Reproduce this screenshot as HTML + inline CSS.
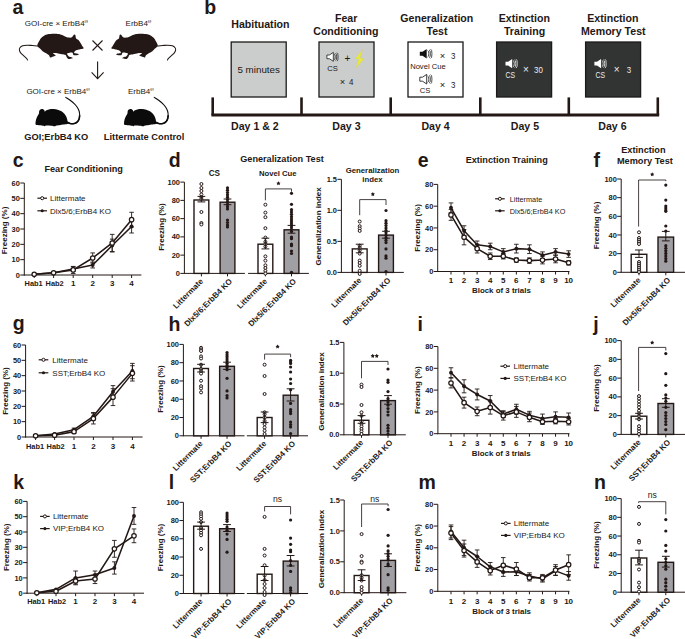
<!DOCTYPE html>
<html><head><meta charset="utf-8"><title>Figure</title>
<style>
html,body{margin:0;padding:0;background:#fff;}
svg{display:block;font-family:"Liberation Sans", sans-serif;}
</style></head>
<body>
<svg width="685" height="639" viewBox="0 0 685 639">
<rect width="685" height="639" fill="#ffffff"/>
<text x="12.6" y="14.3" font-size="19.5" font-weight="bold" fill="#231815">a</text>
<text x="204.2" y="14.2" font-size="19.5" font-weight="bold" fill="#231815">b</text>
<text x="12.8" y="167.2" font-size="19.5" font-weight="bold" fill="#231815">c</text>
<text x="168.8" y="167" font-size="19.5" font-weight="bold" fill="#231815">d</text>
<text x="417.8" y="166.6" font-size="19.5" font-weight="bold" fill="#231815">e</text>
<text x="593.6" y="167.2" font-size="19.5" font-weight="bold" fill="#231815">f</text>
<text x="12.8" y="329.5" font-size="19.5" font-weight="bold" fill="#231815">g</text>
<text x="168.6" y="330.5" font-size="19.5" font-weight="bold" fill="#231815">h</text>
<text x="417.6" y="330.8" font-size="19.5" font-weight="bold" fill="#231815">i</text>
<text x="593.3" y="330.5" font-size="19.5" font-weight="bold" fill="#231815">j</text>
<text x="13.2" y="489" font-size="19.5" font-weight="bold" fill="#231815">k</text>
<text x="168.8" y="488.5" font-size="19.5" font-weight="bold" fill="#231815">l</text>
<text x="418.6" y="489" font-size="19.5" font-weight="bold" fill="#231815">m</text>
<text x="594" y="488.6" font-size="19.5" font-weight="bold" fill="#231815">n</text>
<path d="M37.45,44.42 C37.58,43.98 38.16,42.93 38.54,42.23 C38.92,41.53 40.09,39.17 40.73,38.4 C41.37,37.63 43.19,36.15 44.02,35.66 C44.85,35.17 46.77,34.47 47.85,34.24 C48.94,34.01 52.04,33.72 53.32,33.69 C54.6,33.66 57.65,33.81 58.8,34.02 C59.95,34.23 62.22,35.07 63.18,35.45 C64.14,35.83 66.24,37.05 67.01,37.31 C67.78,37.57 69.17,37.64 69.75,37.64 C70.33,37.64 71.43,37.68 71.94,37.31 C72.45,36.94 73.73,34.78 74.13,34.5 C74.53,34.22 75.12,34.45 75.35,34.9 C75.58,35.35 75.73,37.8 76.1,38.4 C76.47,39 77.97,39.46 78.51,40.04 C79.05,40.62 80.21,42.56 80.7,43.33 C81.19,44.1 82.31,46.03 82.67,46.61 C83.03,47.19 83.76,48 83.76,48.26 C83.76,48.52 83.21,48.67 82.7,48.8 C82.19,48.93 80.09,49.26 79.4,49.4 C78.71,49.54 77.34,49.78 76.8,50 C76.26,50.22 75.1,50.96 74.8,51.3 C74.5,51.64 73.97,52.64 74.2,52.9 C74.43,53.16 76.26,53.35 76.8,53.5 C77.34,53.65 78.65,54.04 78.8,54.2 C78.95,54.36 78.48,54.78 78.1,54.9 C77.71,55.02 76.04,55.2 75.5,55.2 C74.96,55.2 73.8,55.1 73.5,54.9 C73.2,54.7 73.05,53.77 72.9,53.5 C72.75,53.23 72.67,52.67 72.2,52.6 C71.73,52.53 69.52,52.8 68.9,52.9 C68.28,53 67.05,53.27 66.9,53.5 C66.75,53.73 67.37,54.55 67.6,54.9 C67.83,55.25 68.45,56.23 68.9,56.5 C69.36,56.77 71.03,57.01 71.5,57.2 C71.97,57.39 72.97,57.91 72.9,58.1 C72.83,58.29 71.44,58.68 70.9,58.8 C70.36,58.92 68.72,59.18 68.3,59.1 C67.88,59.02 67.53,58.44 67.3,58.1 C67.07,57.76 66.5,56.57 66.3,56.2 C66.1,55.83 66.14,55.13 65.6,54.9 C65.06,54.67 62.69,54.4 61.7,54.2 C60.71,54 58.1,53.32 57.1,53.2 C56.1,53.08 53.45,53.08 53.1,53.2 C52.75,53.32 53.79,53.97 54.1,54.2 C54.41,54.43 55.8,54.97 55.8,55.2 C55.8,55.43 54.48,56.01 54.1,56.2 C53.72,56.39 52.88,56.65 52.5,56.8 C52.12,56.95 51.1,57.45 50.8,57.5 C50.5,57.55 50.09,57.43 49.9,57.2 C49.71,56.97 49.59,55.93 49.2,55.5 C48.82,55.07 47.37,54 46.6,53.5 C45.83,53 43.37,51.77 42.6,51.2 C41.83,50.63 40.47,49.04 40,48.6 C39.53,48.16 38.9,47.7 38.6,47.4 C38.3,47.1 37.53,46.35 37.4,46 C37.27,45.65 37.32,44.86 37.45,44.42 Z" fill="#231815"/>
<path d="M38,46 C36.9,45.9 34.71,45.68 32.52,45.52 C30.33,45.36 29.01,45.12 27.04,45.19 C25.07,45.26 24.08,45.35 22.66,45.85 C21.24,46.35 20.59,46.9 19.93,47.71 C19.27,48.52 19.27,48.91 19.38,49.9 C19.49,50.89 19.59,51.44 20.47,52.64 C21.35,53.84 22.55,54.76 23.76,55.92 C24.97,57.08 25.73,57.63 26.5,58.44 C27.27,59.25 27.37,59.66 27.59,59.97" fill="none" stroke="#231815" stroke-width="1.05" stroke-linecap="round"/>
<g transform="translate(195,0) scale(-1,1)">
<path d="M37.45,44.42 C37.58,43.98 38.16,42.93 38.54,42.23 C38.92,41.53 40.09,39.17 40.73,38.4 C41.37,37.63 43.19,36.15 44.02,35.66 C44.85,35.17 46.77,34.47 47.85,34.24 C48.94,34.01 52.04,33.72 53.32,33.69 C54.6,33.66 57.65,33.81 58.8,34.02 C59.95,34.23 62.22,35.07 63.18,35.45 C64.14,35.83 66.24,37.05 67.01,37.31 C67.78,37.57 69.17,37.64 69.75,37.64 C70.33,37.64 71.43,37.68 71.94,37.31 C72.45,36.94 73.73,34.78 74.13,34.5 C74.53,34.22 75.12,34.45 75.35,34.9 C75.58,35.35 75.73,37.8 76.1,38.4 C76.47,39 77.97,39.46 78.51,40.04 C79.05,40.62 80.21,42.56 80.7,43.33 C81.19,44.1 82.31,46.03 82.67,46.61 C83.03,47.19 83.76,48 83.76,48.26 C83.76,48.52 83.21,48.67 82.7,48.8 C82.19,48.93 80.09,49.26 79.4,49.4 C78.71,49.54 77.34,49.78 76.8,50 C76.26,50.22 75.1,50.96 74.8,51.3 C74.5,51.64 73.97,52.64 74.2,52.9 C74.43,53.16 76.26,53.35 76.8,53.5 C77.34,53.65 78.65,54.04 78.8,54.2 C78.95,54.36 78.48,54.78 78.1,54.9 C77.71,55.02 76.04,55.2 75.5,55.2 C74.96,55.2 73.8,55.1 73.5,54.9 C73.2,54.7 73.05,53.77 72.9,53.5 C72.75,53.23 72.67,52.67 72.2,52.6 C71.73,52.53 69.52,52.8 68.9,52.9 C68.28,53 67.05,53.27 66.9,53.5 C66.75,53.73 67.37,54.55 67.6,54.9 C67.83,55.25 68.45,56.23 68.9,56.5 C69.36,56.77 71.03,57.01 71.5,57.2 C71.97,57.39 72.97,57.91 72.9,58.1 C72.83,58.29 71.44,58.68 70.9,58.8 C70.36,58.92 68.72,59.18 68.3,59.1 C67.88,59.02 67.53,58.44 67.3,58.1 C67.07,57.76 66.5,56.57 66.3,56.2 C66.1,55.83 66.14,55.13 65.6,54.9 C65.06,54.67 62.69,54.4 61.7,54.2 C60.71,54 58.1,53.32 57.1,53.2 C56.1,53.08 53.45,53.08 53.1,53.2 C52.75,53.32 53.79,53.97 54.1,54.2 C54.41,54.43 55.8,54.97 55.8,55.2 C55.8,55.43 54.48,56.01 54.1,56.2 C53.72,56.39 52.88,56.65 52.5,56.8 C52.12,56.95 51.1,57.45 50.8,57.5 C50.5,57.55 50.09,57.43 49.9,57.2 C49.71,56.97 49.59,55.93 49.2,55.5 C48.82,55.07 47.37,54 46.6,53.5 C45.83,53 43.37,51.77 42.6,51.2 C41.83,50.63 40.47,49.04 40,48.6 C39.53,48.16 38.9,47.7 38.6,47.4 C38.3,47.1 37.53,46.35 37.4,46 C37.27,45.65 37.32,44.86 37.45,44.42 Z" fill="#231815"/>
<path d="M38,46 C36.9,45.9 34.71,45.68 32.52,45.52 C30.33,45.36 29.01,45.12 27.04,45.19 C25.07,45.26 24.08,45.35 22.66,45.85 C21.24,46.35 20.59,46.9 19.93,47.71 C19.27,48.52 19.27,48.91 19.38,49.9 C19.49,50.89 19.59,51.44 20.47,52.64 C21.35,53.84 22.55,54.76 23.76,55.92 C24.97,57.08 25.73,57.63 26.5,58.44 C27.27,59.25 27.37,59.66 27.59,59.97" fill="none" stroke="#231815" stroke-width="1.05" stroke-linecap="round"/>
</g>
<path d="M35.46,123.88 C35.52,123.29 35.58,121.85 35.8,120.8 C36.02,119.75 36.43,118.53 36.8,117.6 C37.17,116.67 37.63,115.87 38,115.2 C38.37,114.53 38.82,114.23 39,113.6 C39.18,112.97 38.93,112.03 39.1,111.4 C39.27,110.77 39.55,110.18 40,109.8 C40.45,109.42 41.22,109.15 41.8,109.1 C42.38,109.05 43.05,109.25 43.5,109.5 C43.95,109.75 44.3,110.25 44.5,110.6 C44.7,110.95 44.35,111.67 44.7,111.6 C45.05,111.53 45.77,110.59 46.6,110.2 C47.43,109.81 48.5,109.44 49.68,109.26 C50.86,109.08 52.35,109.02 53.69,109.1 C55.03,109.18 56.41,109.36 57.71,109.74 C59.01,110.11 60.38,110.68 61.49,111.35 C62.6,112.02 63.58,112.88 64.38,113.76 C65.18,114.64 65.83,115.66 66.31,116.65 C66.79,117.64 67.03,118.76 67.27,119.7 C67.51,120.64 67.54,121.63 67.75,122.27 C67.96,122.91 68.95,123.21 68.55,123.56 C68.15,123.91 66.68,124.13 65.34,124.36 C64,124.59 61.99,124.73 60.52,124.92 C59.05,125.11 57.45,125.26 56.51,125.49 C55.57,125.72 55.44,126.18 54.9,126.29 C54.36,126.4 53.83,126.22 53.29,126.13 C52.75,126.04 52.89,125.84 51.69,125.73 C50.48,125.62 47.2,125.4 46.06,125.49 C44.92,125.58 45.26,126.25 44.86,126.29 C44.46,126.33 44.52,125.92 43.65,125.73 C42.78,125.54 40.84,125.3 39.64,125.16 C38.44,125.02 37.13,125.05 36.43,124.92 C35.73,124.79 35.62,124.53 35.46,124.36 C35.3,124.19 35.4,124.47 35.46,123.88 Z" fill="#0c0b0b"/>
<path d="M67.2,122.2 C67.79,122.47 68.93,123.26 70.16,123.56 C71.39,123.86 72.08,123.93 73.37,123.72 C74.66,123.51 75.5,123.31 76.59,122.51 C77.68,121.71 78.23,121.06 78.84,119.7 C79.45,118.34 79.58,117.38 79.64,115.69 C79.7,114 79.64,112.96 79.16,111.27 C78.68,109.58 78.23,108.78 77.23,107.25 C76.23,105.72 75.59,105.04 74.18,103.64 C72.77,102.24 71.85,101.52 70.16,100.27 C68.47,99.02 66.62,97.95 65.74,97.37" fill="none" stroke="#0c0b0b" stroke-width="1.1" stroke-linecap="round"/>
<path d="M67.2,122.2 C67.79,122.47 68.93,123.26 70.16,123.56 C71.39,123.86 72.08,123.93 73.37,123.72 C74.66,123.51 75.5,123.31 76.59,122.51 C77.68,121.71 78.23,121.06 78.84,119.7 C79.45,118.34 79.48,116.49 79.64,115.69" fill="none" stroke="#0c0b0b" stroke-width="1.6" stroke-linecap="round"/>
<g transform="translate(88.5,0)">
<path d="M35.46,123.88 C35.52,123.29 35.58,121.85 35.8,120.8 C36.02,119.75 36.43,118.53 36.8,117.6 C37.17,116.67 37.63,115.87 38,115.2 C38.37,114.53 38.82,114.23 39,113.6 C39.18,112.97 38.93,112.03 39.1,111.4 C39.27,110.77 39.55,110.18 40,109.8 C40.45,109.42 41.22,109.15 41.8,109.1 C42.38,109.05 43.05,109.25 43.5,109.5 C43.95,109.75 44.3,110.25 44.5,110.6 C44.7,110.95 44.35,111.67 44.7,111.6 C45.05,111.53 45.77,110.59 46.6,110.2 C47.43,109.81 48.5,109.44 49.68,109.26 C50.86,109.08 52.35,109.02 53.69,109.1 C55.03,109.18 56.41,109.36 57.71,109.74 C59.01,110.11 60.38,110.68 61.49,111.35 C62.6,112.02 63.58,112.88 64.38,113.76 C65.18,114.64 65.83,115.66 66.31,116.65 C66.79,117.64 67.03,118.76 67.27,119.7 C67.51,120.64 67.54,121.63 67.75,122.27 C67.96,122.91 68.95,123.21 68.55,123.56 C68.15,123.91 66.68,124.13 65.34,124.36 C64,124.59 61.99,124.73 60.52,124.92 C59.05,125.11 57.45,125.26 56.51,125.49 C55.57,125.72 55.44,126.18 54.9,126.29 C54.36,126.4 53.83,126.22 53.29,126.13 C52.75,126.04 52.89,125.84 51.69,125.73 C50.48,125.62 47.2,125.4 46.06,125.49 C44.92,125.58 45.26,126.25 44.86,126.29 C44.46,126.33 44.52,125.92 43.65,125.73 C42.78,125.54 40.84,125.3 39.64,125.16 C38.44,125.02 37.13,125.05 36.43,124.92 C35.73,124.79 35.62,124.53 35.46,124.36 C35.3,124.19 35.4,124.47 35.46,123.88 Z" fill="#0c0b0b"/>
<path d="M67.2,122.2 C67.79,122.47 68.93,123.26 70.16,123.56 C71.39,123.86 72.08,123.93 73.37,123.72 C74.66,123.51 75.5,123.31 76.59,122.51 C77.68,121.71 78.23,121.06 78.84,119.7 C79.45,118.34 79.58,117.38 79.64,115.69 C79.7,114 79.64,112.96 79.16,111.27 C78.68,109.58 78.23,108.78 77.23,107.25 C76.23,105.72 75.59,105.04 74.18,103.64 C72.77,102.24 71.85,101.52 70.16,100.27 C68.47,99.02 66.62,97.95 65.74,97.37" fill="none" stroke="#0c0b0b" stroke-width="1.1" stroke-linecap="round"/>
<path d="M67.2,122.2 C67.79,122.47 68.93,123.26 70.16,123.56 C71.39,123.86 72.08,123.93 73.37,123.72 C74.66,123.51 75.5,123.31 76.59,122.51 C77.68,121.71 78.23,121.06 78.84,119.7 C79.45,118.34 79.48,116.49 79.64,115.69" fill="none" stroke="#0c0b0b" stroke-width="1.6" stroke-linecap="round"/>
</g>
<text x="24.8" y="26.2" font-size="8.0" fill="#231815">GOI-cre × ErbB4<tspan font-size="4" dy="-2.9">f/f</tspan></text>
<text x="125.6" y="26.2" font-size="8.0" fill="#231815">ErbB4<tspan font-size="4" dy="-2.9">f/f</tspan></text>
<text x="26.4" y="93.8" font-size="8.0" fill="#231815">GOI-cre × ErbB4<tspan font-size="4" dy="-2.9">f/f</tspan></text>
<text x="128" y="93.8" font-size="8.0" fill="#231815">ErbB4<tspan font-size="4" dy="-2.9">f/f</tspan></text>
<line x1="92.5" y1="40.5" x2="102.5" y2="50.5" stroke="#231815" stroke-width="1.1"/>
<line x1="102.5" y1="40.5" x2="92.5" y2="50.5" stroke="#231815" stroke-width="1.1"/>
<line x1="97.6" y1="61.5" x2="97.6" y2="78.5" stroke="#231815" stroke-width="1.1"/>
<path d="M91.6,72.4 L97.6,78.6 L103.6,72.4" fill="none" stroke="#231815" stroke-width="1.1"/>
<text x="24.2" y="139.7" font-size="9.3" font-weight="bold" fill="#231815">GOI;ErbB4 KO</text>
<text x="103.8" y="139.7" font-size="9.3" font-weight="bold" fill="#231815">Littermate Control</text>
<line x1="211.4" y1="115.1" x2="659.2" y2="115.1" stroke="#231815" stroke-width="3.0"/>
<line x1="212.7" y1="97.4" x2="212.7" y2="115.1" stroke="#231815" stroke-width="2.6"/>
<line x1="301.5" y1="97.4" x2="301.5" y2="115.1" stroke="#231815" stroke-width="2.6"/>
<line x1="390.7" y1="97.4" x2="390.7" y2="115.1" stroke="#231815" stroke-width="2.6"/>
<line x1="480.3" y1="97.4" x2="480.3" y2="115.1" stroke="#231815" stroke-width="2.6"/>
<line x1="568.8" y1="97.4" x2="568.8" y2="115.1" stroke="#231815" stroke-width="2.6"/>
<line x1="657.8" y1="97.4" x2="657.8" y2="115.1" stroke="#231815" stroke-width="2.6"/>
<text x="254.9" y="130.4" font-size="10.6" font-weight="bold" text-anchor="middle" fill="#231815">Day 1 &amp; 2</text>
<text x="346.4" y="130.4" font-size="10.6" font-weight="bold" text-anchor="middle" fill="#231815">Day 3</text>
<text x="435.6" y="130.4" font-size="10.6" font-weight="bold" text-anchor="middle" fill="#231815">Day 4</text>
<text x="524.9" y="130.4" font-size="10.6" font-weight="bold" text-anchor="middle" fill="#231815">Day 5</text>
<text x="612.4" y="130.4" font-size="10.6" font-weight="bold" text-anchor="middle" fill="#231815">Day 6</text>
<text x="260.4" y="27.9" font-size="10.6" font-weight="bold" text-anchor="middle" fill="#231815">Habituation</text>
<text x="346.2" y="22.1" font-size="10.6" font-weight="bold" text-anchor="middle" fill="#231815">Fear</text>
<text x="345.9" y="34.6" font-size="10.6" font-weight="bold" text-anchor="middle" fill="#231815">Conditioning</text>
<text x="436.8" y="22.1" font-size="10.6" font-weight="bold" text-anchor="middle" fill="#231815">Generalization</text>
<text x="437" y="34.6" font-size="10.6" font-weight="bold" text-anchor="middle" fill="#231815">Test</text>
<text x="524.4" y="22.1" font-size="10.6" font-weight="bold" text-anchor="middle" fill="#231815">Extinction</text>
<text x="524.6" y="34.6" font-size="10.6" font-weight="bold" text-anchor="middle" fill="#231815">Training</text>
<text x="612.9" y="22.1" font-size="10.6" font-weight="bold" text-anchor="middle" fill="#231815">Extinction</text>
<text x="613.3" y="34.6" font-size="10.6" font-weight="bold" text-anchor="middle" fill="#231815">Memory Test</text>
<rect x="231.2" y="42" width="55" height="55" fill="#cbcdcc" stroke="#1b1a19" stroke-width="1.3"/>
<rect x="319" y="42" width="55" height="55" fill="#cbcdcc" stroke="#1b1a19" stroke-width="1.3"/>
<rect x="408" y="42" width="55" height="55" fill="#ffffff" stroke="#1b1a19" stroke-width="1.3"/>
<rect x="496.6" y="42" width="55" height="55" fill="#323434" stroke="#1b1a19" stroke-width="1.3"/>
<rect x="585.6" y="42" width="55" height="55" fill="#323434" stroke="#1b1a19" stroke-width="1.3"/>
<text x="258.7" y="72.8" font-size="9.8" text-anchor="middle" fill="#231815">5 minutes</text>
<path d="M326.9,55 L329.41,55 L333.32,52.39 L333.32,61.32 L329.41,58.72 L326.9,58.72 Z" fill="#ffffff" stroke="#1a1a1a" stroke-width="0.7905" stroke-linejoin="miter"/>
<path d="M334.06,53.88 A1.26,2.98 0 0 1 334.06,59.83" fill="none" stroke="#1a1a1a" stroke-width="0.6975"/>
<path d="M335.5,53.23 A1.26,3.63 0 0 1 335.5,60.48" fill="none" stroke="#1a1a1a" stroke-width="0.6975"/>
<path d="M336.94,52.58 A1.26,4.28 0 0 1 336.94,61.13" fill="none" stroke="#1a1a1a" stroke-width="0.6975"/>
<text x="347.4" y="62.3" font-size="10" text-anchor="middle" fill="#231815">+</text>
<path d="M362.4,50.0 L355.2,58.8 L358.9,59.0 L356.0,67.8 L363.9,58.9 L359.9,58.0 Z" fill="#e9e83e" stroke="#d8d22e" stroke-width="0.3"/>
<text x="332.6" y="70.5" font-size="7.6" text-anchor="middle" fill="#231815">CS</text>
<text x="342.6" y="84.8" font-size="9.4" text-anchor="middle" fill="#231815">×</text>
<text x="351.2" y="84.8" font-size="9.4" text-anchor="middle" fill="#231815" textLength="4.39" lengthAdjust="spacingAndGlyphs">4</text>
<path d="M419.8,51.8 L422.5,51.8 L426.7,49 L426.7,58.6 L422.5,55.8 L419.8,55.8 Z" fill="#111111"/>
<path d="M427.5,50.6 A1.35,3.2 0 0 1 427.5,57" fill="none" stroke="#111111" stroke-width="0.75"/>
<path d="M429.05,49.9 A1.35,3.9 0 0 1 429.05,57.7" fill="none" stroke="#111111" stroke-width="0.75"/>
<path d="M430.6,49.2 A1.35,4.6 0 0 1 430.6,58.4" fill="none" stroke="#111111" stroke-width="0.75"/>
<text x="442.4" y="59.3" font-size="9.4" text-anchor="middle" fill="#231815">×</text>
<text x="453.1" y="59.3" font-size="9.4" text-anchor="middle" fill="#231815" textLength="4.39" lengthAdjust="spacingAndGlyphs">3</text>
<text x="427.9" y="68.6" font-size="7.6" text-anchor="middle" fill="#231815">Novel Cue</text>
<path d="M419.8,77.2 L422.5,77.2 L426.7,74.4 L426.7,84 L422.5,81.2 L419.8,81.2 Z" fill="#ffffff" stroke="#1a1a1a" stroke-width="0.85" stroke-linejoin="miter"/>
<path d="M427.5,76 A1.35,3.2 0 0 1 427.5,82.4" fill="none" stroke="#1a1a1a" stroke-width="0.75"/>
<path d="M429.05,75.3 A1.35,3.9 0 0 1 429.05,83.1" fill="none" stroke="#1a1a1a" stroke-width="0.75"/>
<path d="M430.6,74.6 A1.35,4.6 0 0 1 430.6,83.8" fill="none" stroke="#1a1a1a" stroke-width="0.75"/>
<text x="425" y="93.1" font-size="7.7" text-anchor="middle" fill="#231815">CS</text>
<text x="442.4" y="88" font-size="9.4" text-anchor="middle" fill="#231815">×</text>
<text x="453.1" y="88" font-size="9.4" text-anchor="middle" fill="#231815" textLength="4.39" lengthAdjust="spacingAndGlyphs">3</text>
<path d="M505.5,61.71 L508.12,61.71 L512.19,59 L512.19,68.31 L508.12,65.59 L505.5,65.59 Z" fill="#ffffff"/>
<path d="M512.97,60.55 A1.31,3.1 0 0 1 512.97,66.76" fill="none" stroke="#ffffff" stroke-width="0.7275"/>
<path d="M514.47,59.87 A1.31,3.78 0 0 1 514.47,67.44" fill="none" stroke="#ffffff" stroke-width="0.7275"/>
<path d="M515.98,59.19 A1.31,4.46 0 0 1 515.98,68.11" fill="none" stroke="#ffffff" stroke-width="0.7275"/>
<text x="510.2" y="77.5" font-size="8.2" text-anchor="middle" fill="#eeeeee" textLength="9.57" lengthAdjust="spacingAndGlyphs">CS</text>
<text x="525.8" y="72.9" font-size="10" text-anchor="middle" fill="#eeeeee">×</text>
<text x="538.5" y="72.9" font-size="9.4" text-anchor="middle" fill="#eeeeee" textLength="8.78" lengthAdjust="spacingAndGlyphs">30</text>
<path d="M594.4,61.71 L597.02,61.71 L601.09,59 L601.09,68.31 L597.02,65.59 L594.4,65.59 Z" fill="#ffffff"/>
<path d="M601.87,60.55 A1.31,3.1 0 0 1 601.87,66.76" fill="none" stroke="#ffffff" stroke-width="0.7275"/>
<path d="M603.37,59.87 A1.31,3.78 0 0 1 603.37,67.44" fill="none" stroke="#ffffff" stroke-width="0.7275"/>
<path d="M604.88,59.19 A1.31,4.46 0 0 1 604.88,68.11" fill="none" stroke="#ffffff" stroke-width="0.7275"/>
<text x="600.4" y="77.5" font-size="8.2" text-anchor="middle" fill="#eeeeee" textLength="9.57" lengthAdjust="spacingAndGlyphs">CS</text>
<text x="616.6" y="73" font-size="10" text-anchor="middle" fill="#eeeeee">×</text>
<text x="628.9" y="73" font-size="9.4" text-anchor="middle" fill="#eeeeee" textLength="4.39" lengthAdjust="spacingAndGlyphs">3</text>
<line x1="24.3" y1="183" x2="24.3" y2="275.5" stroke="#231815" stroke-width="1.0"/>
<line x1="20.3" y1="275" x2="24.3" y2="275" stroke="#231815" stroke-width="1.0"/>
<text x="19.9" y="277.6" font-size="8.0" font-weight="bold" text-anchor="end" fill="#231815" textLength="4.14" lengthAdjust="spacingAndGlyphs">0</text>
<line x1="20.3" y1="259.67" x2="24.3" y2="259.67" stroke="#231815" stroke-width="1.0"/>
<text x="19.9" y="262.27" font-size="8.0" font-weight="bold" text-anchor="end" fill="#231815" textLength="8.28" lengthAdjust="spacingAndGlyphs">10</text>
<line x1="20.3" y1="244.33" x2="24.3" y2="244.33" stroke="#231815" stroke-width="1.0"/>
<text x="19.9" y="246.93" font-size="8.0" font-weight="bold" text-anchor="end" fill="#231815" textLength="8.28" lengthAdjust="spacingAndGlyphs">20</text>
<line x1="20.3" y1="229" x2="24.3" y2="229" stroke="#231815" stroke-width="1.0"/>
<text x="19.9" y="231.6" font-size="8.0" font-weight="bold" text-anchor="end" fill="#231815" textLength="8.28" lengthAdjust="spacingAndGlyphs">30</text>
<line x1="20.3" y1="213.67" x2="24.3" y2="213.67" stroke="#231815" stroke-width="1.0"/>
<text x="19.9" y="216.27" font-size="8.0" font-weight="bold" text-anchor="end" fill="#231815" textLength="8.28" lengthAdjust="spacingAndGlyphs">40</text>
<line x1="20.3" y1="198.33" x2="24.3" y2="198.33" stroke="#231815" stroke-width="1.0"/>
<text x="19.9" y="200.93" font-size="8.0" font-weight="bold" text-anchor="end" fill="#231815" textLength="8.28" lengthAdjust="spacingAndGlyphs">50</text>
<line x1="20.3" y1="183" x2="24.3" y2="183" stroke="#231815" stroke-width="1.0"/>
<text x="19.9" y="185.6" font-size="8.0" font-weight="bold" text-anchor="end" fill="#231815" textLength="8.28" lengthAdjust="spacingAndGlyphs">60</text>
<line x1="23.8" y1="275" x2="141.4" y2="275" stroke="#231815" stroke-width="1.0"/>
<line x1="34.2" y1="275" x2="34.2" y2="278" stroke="#231815" stroke-width="1.0"/>
<text x="33.6" y="286.4" font-size="8.0" font-weight="bold" text-anchor="middle" fill="#231815" textLength="18.1" lengthAdjust="spacingAndGlyphs">Hab1</text>
<line x1="53.6" y1="275" x2="53.6" y2="278" stroke="#231815" stroke-width="1.0"/>
<text x="54.6" y="286.4" font-size="8.0" font-weight="bold" text-anchor="middle" fill="#231815" textLength="18.1" lengthAdjust="spacingAndGlyphs">Hab2</text>
<line x1="73.2" y1="275" x2="73.2" y2="278" stroke="#231815" stroke-width="1.0"/>
<text x="73.2" y="286.4" font-size="8.0" font-weight="bold" text-anchor="middle" fill="#231815">1</text>
<line x1="92.7" y1="275" x2="92.7" y2="278" stroke="#231815" stroke-width="1.0"/>
<text x="92.7" y="286.4" font-size="8.0" font-weight="bold" text-anchor="middle" fill="#231815">2</text>
<line x1="112.2" y1="275" x2="112.2" y2="278" stroke="#231815" stroke-width="1.0"/>
<text x="112.2" y="286.4" font-size="8.0" font-weight="bold" text-anchor="middle" fill="#231815">3</text>
<line x1="131.6" y1="275" x2="131.6" y2="278" stroke="#231815" stroke-width="1.0"/>
<text x="131.6" y="286.4" font-size="8.0" font-weight="bold" text-anchor="middle" fill="#231815">4</text>
<text x="7.3" y="230.5" font-size="8.0" font-weight="bold" text-anchor="middle" fill="#231815" transform="rotate(-90 7.3 230.5)">Freezing (%)</text>
<line x1="73.2" y1="266.41" x2="73.2" y2="273.47" stroke="#231815" stroke-width="0.9"/>
<line x1="70.9" y1="266.41" x2="75.5" y2="266.41" stroke="#231815" stroke-width="0.9"/>
<line x1="70.9" y1="273.47" x2="75.5" y2="273.47" stroke="#231815" stroke-width="0.9"/>
<line x1="92.7" y1="252.92" x2="92.7" y2="263.04" stroke="#231815" stroke-width="0.9"/>
<line x1="90.4" y1="252.92" x2="95" y2="252.92" stroke="#231815" stroke-width="0.9"/>
<line x1="90.4" y1="263.04" x2="95" y2="263.04" stroke="#231815" stroke-width="0.9"/>
<line x1="112.2" y1="234.37" x2="112.2" y2="251.54" stroke="#231815" stroke-width="0.9"/>
<line x1="109.9" y1="234.37" x2="114.5" y2="234.37" stroke="#231815" stroke-width="0.9"/>
<line x1="109.9" y1="251.54" x2="114.5" y2="251.54" stroke="#231815" stroke-width="0.9"/>
<line x1="131.6" y1="212.29" x2="131.6" y2="227.01" stroke="#231815" stroke-width="0.9"/>
<line x1="129.3" y1="212.29" x2="133.9" y2="212.29" stroke="#231815" stroke-width="0.9"/>
<line x1="129.3" y1="227.01" x2="133.9" y2="227.01" stroke="#231815" stroke-width="0.9"/>
<line x1="73.2" y1="266.72" x2="73.2" y2="271.32" stroke="#231815" stroke-width="0.9"/>
<line x1="70.9" y1="266.72" x2="75.5" y2="266.72" stroke="#231815" stroke-width="0.9"/>
<line x1="70.9" y1="271.32" x2="75.5" y2="271.32" stroke="#231815" stroke-width="0.9"/>
<line x1="92.7" y1="262.12" x2="92.7" y2="267.95" stroke="#231815" stroke-width="0.9"/>
<line x1="90.4" y1="262.12" x2="95" y2="262.12" stroke="#231815" stroke-width="0.9"/>
<line x1="90.4" y1="267.95" x2="95" y2="267.95" stroke="#231815" stroke-width="0.9"/>
<line x1="112.2" y1="239.12" x2="112.2" y2="252" stroke="#231815" stroke-width="0.9"/>
<line x1="109.9" y1="239.12" x2="114.5" y2="239.12" stroke="#231815" stroke-width="0.9"/>
<line x1="109.9" y1="252" x2="114.5" y2="252" stroke="#231815" stroke-width="0.9"/>
<line x1="131.6" y1="220.11" x2="131.6" y2="232.99" stroke="#231815" stroke-width="0.9"/>
<line x1="129.3" y1="220.11" x2="133.9" y2="220.11" stroke="#231815" stroke-width="0.9"/>
<line x1="129.3" y1="232.99" x2="133.9" y2="232.99" stroke="#231815" stroke-width="0.9"/>
<polyline points="34.2,274.23 53.6,272.7 73.2,269.02 92.7,265.03 112.2,245.56 131.6,226.55" fill="none" stroke="#231815" stroke-width="1.55" stroke-linejoin="round"/>
<polyline points="34.2,274.23 53.6,272.7 73.2,269.94 92.7,257.98 112.2,242.95 131.6,219.65" fill="none" stroke="#231815" stroke-width="1.55" stroke-linejoin="round"/>
<circle cx="34.2" cy="274.23" r="1.95" fill="#231815"/>
<circle cx="53.6" cy="272.7" r="1.95" fill="#231815"/>
<circle cx="73.2" cy="269.02" r="1.95" fill="#231815"/>
<circle cx="92.7" cy="265.03" r="1.95" fill="#231815"/>
<circle cx="112.2" cy="245.56" r="1.95" fill="#231815"/>
<circle cx="131.6" cy="226.55" r="1.95" fill="#231815"/>
<circle cx="34.2" cy="274.23" r="2.2" fill="#ffffff" stroke="#231815" stroke-width="1.25"/>
<circle cx="53.6" cy="272.7" r="2.2" fill="#ffffff" stroke="#231815" stroke-width="1.25"/>
<circle cx="73.2" cy="269.94" r="2.2" fill="#ffffff" stroke="#231815" stroke-width="1.25"/>
<circle cx="92.7" cy="257.98" r="2.2" fill="#ffffff" stroke="#231815" stroke-width="1.25"/>
<circle cx="112.2" cy="242.95" r="2.2" fill="#ffffff" stroke="#231815" stroke-width="1.25"/>
<circle cx="131.6" cy="219.65" r="2.2" fill="#ffffff" stroke="#231815" stroke-width="1.25"/>
<line x1="37.4" y1="198.2" x2="47" y2="198.2" stroke="#231815" stroke-width="1.2"/>
<circle cx="42.2" cy="198.2" r="1.55" fill="#ffffff" stroke="#231815" stroke-width="1.0"/>
<text x="50" y="201" font-size="8.0" fill="#231815">Littermate</text>
<line x1="37.4" y1="210.8" x2="47" y2="210.8" stroke="#231815" stroke-width="1.2"/>
<circle cx="42.2" cy="210.8" r="1.55" fill="#231815"/>
<text x="50" y="213.6" font-size="8.0" fill="#231815">Dlx5/6;ErbB4 KO</text>
<text x="83.7" y="171.8" font-size="9.2" font-weight="bold" text-anchor="middle" fill="#231815">Fear Conditioning</text>
<line x1="25.6" y1="345" x2="25.6" y2="437.5" stroke="#231815" stroke-width="1.0"/>
<line x1="21.6" y1="437" x2="25.6" y2="437" stroke="#231815" stroke-width="1.0"/>
<text x="21.2" y="439.6" font-size="8.0" font-weight="bold" text-anchor="end" fill="#231815" textLength="4.14" lengthAdjust="spacingAndGlyphs">0</text>
<line x1="21.6" y1="421.67" x2="25.6" y2="421.67" stroke="#231815" stroke-width="1.0"/>
<text x="21.2" y="424.27" font-size="8.0" font-weight="bold" text-anchor="end" fill="#231815" textLength="8.28" lengthAdjust="spacingAndGlyphs">10</text>
<line x1="21.6" y1="406.33" x2="25.6" y2="406.33" stroke="#231815" stroke-width="1.0"/>
<text x="21.2" y="408.93" font-size="8.0" font-weight="bold" text-anchor="end" fill="#231815" textLength="8.28" lengthAdjust="spacingAndGlyphs">20</text>
<line x1="21.6" y1="391" x2="25.6" y2="391" stroke="#231815" stroke-width="1.0"/>
<text x="21.2" y="393.6" font-size="8.0" font-weight="bold" text-anchor="end" fill="#231815" textLength="8.28" lengthAdjust="spacingAndGlyphs">30</text>
<line x1="21.6" y1="375.67" x2="25.6" y2="375.67" stroke="#231815" stroke-width="1.0"/>
<text x="21.2" y="378.27" font-size="8.0" font-weight="bold" text-anchor="end" fill="#231815" textLength="8.28" lengthAdjust="spacingAndGlyphs">40</text>
<line x1="21.6" y1="360.33" x2="25.6" y2="360.33" stroke="#231815" stroke-width="1.0"/>
<text x="21.2" y="362.93" font-size="8.0" font-weight="bold" text-anchor="end" fill="#231815" textLength="8.28" lengthAdjust="spacingAndGlyphs">50</text>
<line x1="21.6" y1="345" x2="25.6" y2="345" stroke="#231815" stroke-width="1.0"/>
<text x="21.2" y="347.6" font-size="8.0" font-weight="bold" text-anchor="end" fill="#231815" textLength="8.28" lengthAdjust="spacingAndGlyphs">60</text>
<line x1="25.1" y1="437" x2="142.6" y2="437" stroke="#231815" stroke-width="1.0"/>
<line x1="35.6" y1="437" x2="35.6" y2="440" stroke="#231815" stroke-width="1.0"/>
<text x="35" y="448.6" font-size="8.0" font-weight="bold" text-anchor="middle" fill="#231815" textLength="18.1" lengthAdjust="spacingAndGlyphs">Hab1</text>
<line x1="54.6" y1="437" x2="54.6" y2="440" stroke="#231815" stroke-width="1.0"/>
<text x="55.6" y="448.6" font-size="8.0" font-weight="bold" text-anchor="middle" fill="#231815" textLength="18.1" lengthAdjust="spacingAndGlyphs">Hab2</text>
<line x1="74" y1="437" x2="74" y2="440" stroke="#231815" stroke-width="1.0"/>
<text x="74" y="448.6" font-size="8.0" font-weight="bold" text-anchor="middle" fill="#231815">1</text>
<line x1="93.4" y1="437" x2="93.4" y2="440" stroke="#231815" stroke-width="1.0"/>
<text x="93.4" y="448.6" font-size="8.0" font-weight="bold" text-anchor="middle" fill="#231815">2</text>
<line x1="113" y1="437" x2="113" y2="440" stroke="#231815" stroke-width="1.0"/>
<text x="113" y="448.6" font-size="8.0" font-weight="bold" text-anchor="middle" fill="#231815">3</text>
<line x1="132.4" y1="437" x2="132.4" y2="440" stroke="#231815" stroke-width="1.0"/>
<text x="132.4" y="448.6" font-size="8.0" font-weight="bold" text-anchor="middle" fill="#231815">4</text>
<text x="8.4" y="391" font-size="8.0" font-weight="bold" text-anchor="middle" fill="#231815" transform="rotate(-90 8.4 391)">Freezing (%)</text>
<line x1="74" y1="429.79" x2="74" y2="433.47" stroke="#231815" stroke-width="0.9"/>
<line x1="71.7" y1="429.79" x2="76.3" y2="429.79" stroke="#231815" stroke-width="0.9"/>
<line x1="71.7" y1="433.47" x2="76.3" y2="433.47" stroke="#231815" stroke-width="0.9"/>
<line x1="93.4" y1="413.23" x2="93.4" y2="423.97" stroke="#231815" stroke-width="0.9"/>
<line x1="91.1" y1="413.23" x2="95.7" y2="413.23" stroke="#231815" stroke-width="0.9"/>
<line x1="91.1" y1="423.97" x2="95.7" y2="423.97" stroke="#231815" stroke-width="0.9"/>
<line x1="113" y1="388.7" x2="113" y2="405.57" stroke="#231815" stroke-width="0.9"/>
<line x1="110.7" y1="388.7" x2="115.3" y2="388.7" stroke="#231815" stroke-width="0.9"/>
<line x1="110.7" y1="405.57" x2="115.3" y2="405.57" stroke="#231815" stroke-width="0.9"/>
<line x1="132.4" y1="365.7" x2="132.4" y2="381.03" stroke="#231815" stroke-width="0.9"/>
<line x1="130.1" y1="365.7" x2="134.7" y2="365.7" stroke="#231815" stroke-width="0.9"/>
<line x1="130.1" y1="381.03" x2="134.7" y2="381.03" stroke="#231815" stroke-width="0.9"/>
<line x1="74" y1="428.11" x2="74" y2="431.17" stroke="#231815" stroke-width="0.9"/>
<line x1="71.7" y1="428.11" x2="76.3" y2="428.11" stroke="#231815" stroke-width="0.9"/>
<line x1="71.7" y1="431.17" x2="76.3" y2="431.17" stroke="#231815" stroke-width="0.9"/>
<line x1="93.4" y1="412.47" x2="93.4" y2="420.13" stroke="#231815" stroke-width="0.9"/>
<line x1="91.1" y1="412.47" x2="95.7" y2="412.47" stroke="#231815" stroke-width="0.9"/>
<line x1="91.1" y1="420.13" x2="95.7" y2="420.13" stroke="#231815" stroke-width="0.9"/>
<line x1="113" y1="385.63" x2="113" y2="397.9" stroke="#231815" stroke-width="0.9"/>
<line x1="110.7" y1="385.63" x2="115.3" y2="385.63" stroke="#231815" stroke-width="0.9"/>
<line x1="110.7" y1="397.9" x2="115.3" y2="397.9" stroke="#231815" stroke-width="0.9"/>
<line x1="132.4" y1="363.4" x2="132.4" y2="378.73" stroke="#231815" stroke-width="0.9"/>
<line x1="130.1" y1="363.4" x2="134.7" y2="363.4" stroke="#231815" stroke-width="0.9"/>
<line x1="130.1" y1="378.73" x2="134.7" y2="378.73" stroke="#231815" stroke-width="0.9"/>
<polyline points="35.6,435.77 54.6,433.93 74,429.64 93.4,416.3 113,391.77 132.4,371.07" fill="none" stroke="#231815" stroke-width="1.55" stroke-linejoin="round"/>
<polyline points="35.6,435.77 54.6,435.16 74,431.63 93.4,418.6 113,397.13 132.4,373.37" fill="none" stroke="#231815" stroke-width="1.55" stroke-linejoin="round"/>
<circle cx="35.6" cy="435.77" r="1.95" fill="#231815"/>
<circle cx="54.6" cy="433.93" r="1.95" fill="#231815"/>
<circle cx="74" cy="429.64" r="1.95" fill="#231815"/>
<circle cx="93.4" cy="416.3" r="1.95" fill="#231815"/>
<circle cx="113" cy="391.77" r="1.95" fill="#231815"/>
<circle cx="132.4" cy="371.07" r="1.95" fill="#231815"/>
<circle cx="35.6" cy="435.77" r="2.2" fill="#ffffff" stroke="#231815" stroke-width="1.25"/>
<circle cx="54.6" cy="435.16" r="2.2" fill="#ffffff" stroke="#231815" stroke-width="1.25"/>
<circle cx="74" cy="431.63" r="2.2" fill="#ffffff" stroke="#231815" stroke-width="1.25"/>
<circle cx="93.4" cy="418.6" r="2.2" fill="#ffffff" stroke="#231815" stroke-width="1.25"/>
<circle cx="113" cy="397.13" r="2.2" fill="#ffffff" stroke="#231815" stroke-width="1.25"/>
<circle cx="132.4" cy="373.37" r="2.2" fill="#ffffff" stroke="#231815" stroke-width="1.25"/>
<line x1="38.7" y1="359.8" x2="48.3" y2="359.8" stroke="#231815" stroke-width="1.2"/>
<circle cx="43.5" cy="359.8" r="1.55" fill="#ffffff" stroke="#231815" stroke-width="1.0"/>
<text x="52.3" y="362.6" font-size="8.0" fill="#231815">Littermate</text>
<line x1="38.7" y1="372.8" x2="48.3" y2="372.8" stroke="#231815" stroke-width="1.2"/>
<circle cx="43.5" cy="372.8" r="1.55" fill="#231815"/>
<text x="52.3" y="375.6" font-size="8.0" fill="#231815">SST;ErbB4 KO</text>
<line x1="27.1" y1="501.4" x2="27.1" y2="593.7" stroke="#231815" stroke-width="1.0"/>
<line x1="23.1" y1="593.2" x2="27.1" y2="593.2" stroke="#231815" stroke-width="1.0"/>
<text x="22.7" y="595.8" font-size="8.0" font-weight="bold" text-anchor="end" fill="#231815" textLength="4.14" lengthAdjust="spacingAndGlyphs">0</text>
<line x1="23.1" y1="577.9" x2="27.1" y2="577.9" stroke="#231815" stroke-width="1.0"/>
<text x="22.7" y="580.5" font-size="8.0" font-weight="bold" text-anchor="end" fill="#231815" textLength="8.28" lengthAdjust="spacingAndGlyphs">10</text>
<line x1="23.1" y1="562.6" x2="27.1" y2="562.6" stroke="#231815" stroke-width="1.0"/>
<text x="22.7" y="565.2" font-size="8.0" font-weight="bold" text-anchor="end" fill="#231815" textLength="8.28" lengthAdjust="spacingAndGlyphs">20</text>
<line x1="23.1" y1="547.3" x2="27.1" y2="547.3" stroke="#231815" stroke-width="1.0"/>
<text x="22.7" y="549.9" font-size="8.0" font-weight="bold" text-anchor="end" fill="#231815" textLength="8.28" lengthAdjust="spacingAndGlyphs">30</text>
<line x1="23.1" y1="532" x2="27.1" y2="532" stroke="#231815" stroke-width="1.0"/>
<text x="22.7" y="534.6" font-size="8.0" font-weight="bold" text-anchor="end" fill="#231815" textLength="8.28" lengthAdjust="spacingAndGlyphs">40</text>
<line x1="23.1" y1="516.7" x2="27.1" y2="516.7" stroke="#231815" stroke-width="1.0"/>
<text x="22.7" y="519.3" font-size="8.0" font-weight="bold" text-anchor="end" fill="#231815" textLength="8.28" lengthAdjust="spacingAndGlyphs">50</text>
<line x1="23.1" y1="501.4" x2="27.1" y2="501.4" stroke="#231815" stroke-width="1.0"/>
<text x="22.7" y="504" font-size="8.0" font-weight="bold" text-anchor="end" fill="#231815" textLength="8.28" lengthAdjust="spacingAndGlyphs">60</text>
<line x1="26.6" y1="593.2" x2="144" y2="593.2" stroke="#231815" stroke-width="1.0"/>
<line x1="36.8" y1="593.2" x2="36.8" y2="596.2" stroke="#231815" stroke-width="1.0"/>
<text x="36.2" y="604.4" font-size="8.0" font-weight="bold" text-anchor="middle" fill="#231815" textLength="18.1" lengthAdjust="spacingAndGlyphs">Hab1</text>
<line x1="56" y1="593.2" x2="56" y2="596.2" stroke="#231815" stroke-width="1.0"/>
<text x="57" y="604.4" font-size="8.0" font-weight="bold" text-anchor="middle" fill="#231815" textLength="18.1" lengthAdjust="spacingAndGlyphs">Hab2</text>
<line x1="75.6" y1="593.2" x2="75.6" y2="596.2" stroke="#231815" stroke-width="1.0"/>
<text x="75.6" y="604.4" font-size="8.0" font-weight="bold" text-anchor="middle" fill="#231815">1</text>
<line x1="95" y1="593.2" x2="95" y2="596.2" stroke="#231815" stroke-width="1.0"/>
<text x="95" y="604.4" font-size="8.0" font-weight="bold" text-anchor="middle" fill="#231815">2</text>
<line x1="114.4" y1="593.2" x2="114.4" y2="596.2" stroke="#231815" stroke-width="1.0"/>
<text x="114.4" y="604.4" font-size="8.0" font-weight="bold" text-anchor="middle" fill="#231815">3</text>
<line x1="134" y1="593.2" x2="134" y2="596.2" stroke="#231815" stroke-width="1.0"/>
<text x="134" y="604.4" font-size="8.0" font-weight="bold" text-anchor="middle" fill="#231815">4</text>
<text x="9.5" y="547.3" font-size="8.0" font-weight="bold" text-anchor="middle" fill="#231815" transform="rotate(-90 9.5 547.3)">Freezing (%)</text>
<line x1="75.6" y1="577.9" x2="75.6" y2="584.02" stroke="#231815" stroke-width="0.9"/>
<line x1="73.3" y1="577.9" x2="77.9" y2="577.9" stroke="#231815" stroke-width="0.9"/>
<line x1="73.3" y1="584.02" x2="77.9" y2="584.02" stroke="#231815" stroke-width="0.9"/>
<line x1="95" y1="574.38" x2="95" y2="583.56" stroke="#231815" stroke-width="0.9"/>
<line x1="92.7" y1="574.38" x2="97.3" y2="574.38" stroke="#231815" stroke-width="0.9"/>
<line x1="92.7" y1="583.56" x2="97.3" y2="583.56" stroke="#231815" stroke-width="0.9"/>
<line x1="114.4" y1="540.42" x2="114.4" y2="557.25" stroke="#231815" stroke-width="0.9"/>
<line x1="112.1" y1="540.42" x2="116.7" y2="540.42" stroke="#231815" stroke-width="0.9"/>
<line x1="112.1" y1="557.25" x2="116.7" y2="557.25" stroke="#231815" stroke-width="0.9"/>
<line x1="134" y1="528.94" x2="134" y2="542.71" stroke="#231815" stroke-width="0.9"/>
<line x1="131.7" y1="528.94" x2="136.3" y2="528.94" stroke="#231815" stroke-width="0.9"/>
<line x1="131.7" y1="542.71" x2="136.3" y2="542.71" stroke="#231815" stroke-width="0.9"/>
<line x1="75.6" y1="571.02" x2="75.6" y2="584.79" stroke="#231815" stroke-width="0.9"/>
<line x1="73.3" y1="571.02" x2="77.9" y2="571.02" stroke="#231815" stroke-width="0.9"/>
<line x1="73.3" y1="584.79" x2="77.9" y2="584.79" stroke="#231815" stroke-width="0.9"/>
<line x1="95" y1="571.02" x2="95" y2="578.67" stroke="#231815" stroke-width="0.9"/>
<line x1="92.7" y1="571.02" x2="97.3" y2="571.02" stroke="#231815" stroke-width="0.9"/>
<line x1="92.7" y1="578.67" x2="97.3" y2="578.67" stroke="#231815" stroke-width="0.9"/>
<line x1="114.4" y1="561.84" x2="114.4" y2="574.08" stroke="#231815" stroke-width="0.9"/>
<line x1="112.1" y1="561.84" x2="116.7" y2="561.84" stroke="#231815" stroke-width="0.9"/>
<line x1="112.1" y1="574.08" x2="116.7" y2="574.08" stroke="#231815" stroke-width="0.9"/>
<line x1="134" y1="507.52" x2="134" y2="524.35" stroke="#231815" stroke-width="0.9"/>
<line x1="131.7" y1="507.52" x2="136.3" y2="507.52" stroke="#231815" stroke-width="0.9"/>
<line x1="131.7" y1="524.35" x2="136.3" y2="524.35" stroke="#231815" stroke-width="0.9"/>
<polyline points="36.8,592.74 56,589.38 75.6,577.9 95,574.84 114.4,567.96 134,515.94" fill="none" stroke="#231815" stroke-width="1.55" stroke-linejoin="round"/>
<polyline points="36.8,592.74 56,591.21 75.6,580.96 95,578.97 114.4,548.83 134,535.83" fill="none" stroke="#231815" stroke-width="1.55" stroke-linejoin="round"/>
<circle cx="36.8" cy="592.74" r="1.95" fill="#231815"/>
<circle cx="56" cy="589.38" r="1.95" fill="#231815"/>
<circle cx="75.6" cy="577.9" r="1.95" fill="#231815"/>
<circle cx="95" cy="574.84" r="1.95" fill="#231815"/>
<circle cx="114.4" cy="567.96" r="1.95" fill="#231815"/>
<circle cx="134" cy="515.94" r="1.95" fill="#231815"/>
<circle cx="36.8" cy="592.74" r="2.2" fill="#ffffff" stroke="#231815" stroke-width="1.25"/>
<circle cx="56" cy="591.21" r="2.2" fill="#ffffff" stroke="#231815" stroke-width="1.25"/>
<circle cx="75.6" cy="580.96" r="2.2" fill="#ffffff" stroke="#231815" stroke-width="1.25"/>
<circle cx="95" cy="578.97" r="2.2" fill="#ffffff" stroke="#231815" stroke-width="1.25"/>
<circle cx="114.4" cy="548.83" r="2.2" fill="#ffffff" stroke="#231815" stroke-width="1.25"/>
<circle cx="134" cy="535.83" r="2.2" fill="#ffffff" stroke="#231815" stroke-width="1.25"/>
<line x1="40.1" y1="516.4" x2="49.7" y2="516.4" stroke="#231815" stroke-width="1.2"/>
<circle cx="44.9" cy="516.4" r="1.55" fill="#ffffff" stroke="#231815" stroke-width="1.0"/>
<text x="52.9" y="519.2" font-size="8.0" fill="#231815">Littermate</text>
<line x1="40.1" y1="528.6" x2="49.7" y2="528.6" stroke="#231815" stroke-width="1.2"/>
<circle cx="44.9" cy="528.6" r="1.55" fill="#231815"/>
<text x="52.9" y="531.4" font-size="8.0" fill="#231815">VIP;ErbB4 KO</text>
<line x1="437.7" y1="184.4" x2="437.7" y2="272" stroke="#231815" stroke-width="1.0"/>
<line x1="433.7" y1="271.5" x2="437.7" y2="271.5" stroke="#231815" stroke-width="1.0"/>
<text x="433.3" y="274.1" font-size="8.0" font-weight="bold" text-anchor="end" fill="#231815" textLength="4.14" lengthAdjust="spacingAndGlyphs">0</text>
<line x1="433.7" y1="249.72" x2="437.7" y2="249.72" stroke="#231815" stroke-width="1.0"/>
<text x="433.3" y="252.32" font-size="8.0" font-weight="bold" text-anchor="end" fill="#231815" textLength="8.28" lengthAdjust="spacingAndGlyphs">20</text>
<line x1="433.7" y1="227.95" x2="437.7" y2="227.95" stroke="#231815" stroke-width="1.0"/>
<text x="433.3" y="230.55" font-size="8.0" font-weight="bold" text-anchor="end" fill="#231815" textLength="8.28" lengthAdjust="spacingAndGlyphs">40</text>
<line x1="433.7" y1="206.18" x2="437.7" y2="206.18" stroke="#231815" stroke-width="1.0"/>
<text x="433.3" y="208.78" font-size="8.0" font-weight="bold" text-anchor="end" fill="#231815" textLength="8.28" lengthAdjust="spacingAndGlyphs">60</text>
<line x1="433.7" y1="184.4" x2="437.7" y2="184.4" stroke="#231815" stroke-width="1.0"/>
<text x="433.3" y="187" font-size="8.0" font-weight="bold" text-anchor="end" fill="#231815" textLength="8.28" lengthAdjust="spacingAndGlyphs">80</text>
<line x1="437.2" y1="271.5" x2="569.5" y2="271.5" stroke="#231815" stroke-width="1.0"/>
<line x1="451" y1="271.5" x2="451" y2="274.5" stroke="#231815" stroke-width="1.0"/>
<text x="451" y="283.1" font-size="8.0" font-weight="bold" text-anchor="middle" fill="#231815">1</text>
<line x1="464.07" y1="271.5" x2="464.07" y2="274.5" stroke="#231815" stroke-width="1.0"/>
<text x="464.07" y="283.1" font-size="8.0" font-weight="bold" text-anchor="middle" fill="#231815">2</text>
<line x1="477.14" y1="271.5" x2="477.14" y2="274.5" stroke="#231815" stroke-width="1.0"/>
<text x="477.14" y="283.1" font-size="8.0" font-weight="bold" text-anchor="middle" fill="#231815">3</text>
<line x1="490.21" y1="271.5" x2="490.21" y2="274.5" stroke="#231815" stroke-width="1.0"/>
<text x="490.21" y="283.1" font-size="8.0" font-weight="bold" text-anchor="middle" fill="#231815">4</text>
<line x1="503.28" y1="271.5" x2="503.28" y2="274.5" stroke="#231815" stroke-width="1.0"/>
<text x="503.28" y="283.1" font-size="8.0" font-weight="bold" text-anchor="middle" fill="#231815">5</text>
<line x1="516.35" y1="271.5" x2="516.35" y2="274.5" stroke="#231815" stroke-width="1.0"/>
<text x="516.35" y="283.1" font-size="8.0" font-weight="bold" text-anchor="middle" fill="#231815">6</text>
<line x1="529.42" y1="271.5" x2="529.42" y2="274.5" stroke="#231815" stroke-width="1.0"/>
<text x="529.42" y="283.1" font-size="8.0" font-weight="bold" text-anchor="middle" fill="#231815">7</text>
<line x1="542.49" y1="271.5" x2="542.49" y2="274.5" stroke="#231815" stroke-width="1.0"/>
<text x="542.49" y="283.1" font-size="8.0" font-weight="bold" text-anchor="middle" fill="#231815">8</text>
<line x1="555.56" y1="271.5" x2="555.56" y2="274.5" stroke="#231815" stroke-width="1.0"/>
<text x="555.56" y="283.1" font-size="8.0" font-weight="bold" text-anchor="middle" fill="#231815">9</text>
<line x1="568.63" y1="271.5" x2="568.63" y2="274.5" stroke="#231815" stroke-width="1.0"/>
<text x="568.63" y="283.1" font-size="8.0" font-weight="bold" text-anchor="middle" fill="#231815">10</text>
<text x="419.6" y="227.95" font-size="8.0" font-weight="bold" text-anchor="middle" fill="#231815" transform="rotate(-90 419.6 227.95)">Freezing (%)</text>
<line x1="451" y1="209.44" x2="451" y2="220.33" stroke="#231815" stroke-width="0.9"/>
<line x1="448.7" y1="209.44" x2="453.3" y2="209.44" stroke="#231815" stroke-width="0.9"/>
<line x1="448.7" y1="220.33" x2="453.3" y2="220.33" stroke="#231815" stroke-width="0.9"/>
<line x1="464.07" y1="229.58" x2="464.07" y2="244.83" stroke="#231815" stroke-width="0.9"/>
<line x1="461.77" y1="229.58" x2="466.37" y2="229.58" stroke="#231815" stroke-width="0.9"/>
<line x1="461.77" y1="244.83" x2="466.37" y2="244.83" stroke="#231815" stroke-width="0.9"/>
<line x1="477.14" y1="244.28" x2="477.14" y2="252.99" stroke="#231815" stroke-width="0.9"/>
<line x1="474.84" y1="244.28" x2="479.44" y2="244.28" stroke="#231815" stroke-width="0.9"/>
<line x1="474.84" y1="252.99" x2="479.44" y2="252.99" stroke="#231815" stroke-width="0.9"/>
<line x1="490.21" y1="252.99" x2="490.21" y2="259.52" stroke="#231815" stroke-width="0.9"/>
<line x1="487.91" y1="252.99" x2="492.51" y2="252.99" stroke="#231815" stroke-width="0.9"/>
<line x1="487.91" y1="259.52" x2="492.51" y2="259.52" stroke="#231815" stroke-width="0.9"/>
<line x1="503.28" y1="253.54" x2="503.28" y2="258.98" stroke="#231815" stroke-width="0.9"/>
<line x1="500.98" y1="253.54" x2="505.58" y2="253.54" stroke="#231815" stroke-width="0.9"/>
<line x1="500.98" y1="258.98" x2="505.58" y2="258.98" stroke="#231815" stroke-width="0.9"/>
<line x1="516.35" y1="257.89" x2="516.35" y2="262.25" stroke="#231815" stroke-width="0.9"/>
<line x1="514.05" y1="257.89" x2="518.65" y2="257.89" stroke="#231815" stroke-width="0.9"/>
<line x1="514.05" y1="262.25" x2="518.65" y2="262.25" stroke="#231815" stroke-width="0.9"/>
<line x1="529.42" y1="257.89" x2="529.42" y2="263.33" stroke="#231815" stroke-width="0.9"/>
<line x1="527.12" y1="257.89" x2="531.72" y2="257.89" stroke="#231815" stroke-width="0.9"/>
<line x1="527.12" y1="263.33" x2="531.72" y2="263.33" stroke="#231815" stroke-width="0.9"/>
<line x1="542.49" y1="256.26" x2="542.49" y2="263.88" stroke="#231815" stroke-width="0.9"/>
<line x1="540.19" y1="256.26" x2="544.79" y2="256.26" stroke="#231815" stroke-width="0.9"/>
<line x1="540.19" y1="263.88" x2="544.79" y2="263.88" stroke="#231815" stroke-width="0.9"/>
<line x1="555.56" y1="255.17" x2="555.56" y2="262.79" stroke="#231815" stroke-width="0.9"/>
<line x1="553.26" y1="255.17" x2="557.86" y2="255.17" stroke="#231815" stroke-width="0.9"/>
<line x1="553.26" y1="262.79" x2="557.86" y2="262.79" stroke="#231815" stroke-width="0.9"/>
<line x1="568.63" y1="260.61" x2="568.63" y2="264.97" stroke="#231815" stroke-width="0.9"/>
<line x1="566.33" y1="260.61" x2="570.93" y2="260.61" stroke="#231815" stroke-width="0.9"/>
<line x1="566.33" y1="264.97" x2="570.93" y2="264.97" stroke="#231815" stroke-width="0.9"/>
<line x1="451" y1="202.91" x2="451" y2="212.71" stroke="#231815" stroke-width="0.9"/>
<line x1="448.7" y1="202.91" x2="453.3" y2="202.91" stroke="#231815" stroke-width="0.9"/>
<line x1="448.7" y1="212.71" x2="453.3" y2="212.71" stroke="#231815" stroke-width="0.9"/>
<line x1="464.07" y1="225.77" x2="464.07" y2="235.57" stroke="#231815" stroke-width="0.9"/>
<line x1="461.77" y1="225.77" x2="466.37" y2="225.77" stroke="#231815" stroke-width="0.9"/>
<line x1="461.77" y1="235.57" x2="466.37" y2="235.57" stroke="#231815" stroke-width="0.9"/>
<line x1="477.14" y1="241.02" x2="477.14" y2="248.64" stroke="#231815" stroke-width="0.9"/>
<line x1="474.84" y1="241.02" x2="479.44" y2="241.02" stroke="#231815" stroke-width="0.9"/>
<line x1="474.84" y1="248.64" x2="479.44" y2="248.64" stroke="#231815" stroke-width="0.9"/>
<line x1="490.21" y1="243.19" x2="490.21" y2="249.72" stroke="#231815" stroke-width="0.9"/>
<line x1="487.91" y1="243.19" x2="492.51" y2="243.19" stroke="#231815" stroke-width="0.9"/>
<line x1="487.91" y1="249.72" x2="492.51" y2="249.72" stroke="#231815" stroke-width="0.9"/>
<line x1="503.28" y1="248.64" x2="503.28" y2="255.17" stroke="#231815" stroke-width="0.9"/>
<line x1="500.98" y1="248.64" x2="505.58" y2="248.64" stroke="#231815" stroke-width="0.9"/>
<line x1="500.98" y1="255.17" x2="505.58" y2="255.17" stroke="#231815" stroke-width="0.9"/>
<line x1="516.35" y1="244.28" x2="516.35" y2="252.99" stroke="#231815" stroke-width="0.9"/>
<line x1="514.05" y1="244.28" x2="518.65" y2="244.28" stroke="#231815" stroke-width="0.9"/>
<line x1="514.05" y1="252.99" x2="518.65" y2="252.99" stroke="#231815" stroke-width="0.9"/>
<line x1="529.42" y1="244.83" x2="529.42" y2="253.54" stroke="#231815" stroke-width="0.9"/>
<line x1="527.12" y1="244.83" x2="531.72" y2="244.83" stroke="#231815" stroke-width="0.9"/>
<line x1="527.12" y1="253.54" x2="531.72" y2="253.54" stroke="#231815" stroke-width="0.9"/>
<line x1="542.49" y1="251.9" x2="542.49" y2="258.44" stroke="#231815" stroke-width="0.9"/>
<line x1="540.19" y1="251.9" x2="544.79" y2="251.9" stroke="#231815" stroke-width="0.9"/>
<line x1="540.19" y1="258.44" x2="544.79" y2="258.44" stroke="#231815" stroke-width="0.9"/>
<line x1="555.56" y1="248.64" x2="555.56" y2="255.17" stroke="#231815" stroke-width="0.9"/>
<line x1="553.26" y1="248.64" x2="557.86" y2="248.64" stroke="#231815" stroke-width="0.9"/>
<line x1="553.26" y1="255.17" x2="557.86" y2="255.17" stroke="#231815" stroke-width="0.9"/>
<line x1="568.63" y1="250.81" x2="568.63" y2="257.35" stroke="#231815" stroke-width="0.9"/>
<line x1="566.33" y1="250.81" x2="570.93" y2="250.81" stroke="#231815" stroke-width="0.9"/>
<line x1="566.33" y1="257.35" x2="570.93" y2="257.35" stroke="#231815" stroke-width="0.9"/>
<polyline points="451,207.81 464.07,230.67 477.14,244.83 490.21,246.46 503.28,251.9 516.35,248.64 529.42,249.18 542.49,255.17 555.56,251.9 568.63,254.08" fill="none" stroke="#231815" stroke-width="1.55" stroke-linejoin="round"/>
<polyline points="451,214.88 464.07,237.2 477.14,248.64 490.21,256.26 503.28,256.26 516.35,260.07 529.42,260.61 542.49,260.07 555.56,258.98 568.63,262.79" fill="none" stroke="#231815" stroke-width="1.55" stroke-linejoin="round"/>
<circle cx="451" cy="207.81" r="1.95" fill="#231815"/>
<circle cx="464.07" cy="230.67" r="1.95" fill="#231815"/>
<circle cx="477.14" cy="244.83" r="1.95" fill="#231815"/>
<circle cx="490.21" cy="246.46" r="1.95" fill="#231815"/>
<circle cx="503.28" cy="251.9" r="1.95" fill="#231815"/>
<circle cx="516.35" cy="248.64" r="1.95" fill="#231815"/>
<circle cx="529.42" cy="249.18" r="1.95" fill="#231815"/>
<circle cx="542.49" cy="255.17" r="1.95" fill="#231815"/>
<circle cx="555.56" cy="251.9" r="1.95" fill="#231815"/>
<circle cx="568.63" cy="254.08" r="1.95" fill="#231815"/>
<circle cx="451" cy="214.88" r="2.2" fill="#ffffff" stroke="#231815" stroke-width="1.25"/>
<circle cx="464.07" cy="237.2" r="2.2" fill="#ffffff" stroke="#231815" stroke-width="1.25"/>
<circle cx="477.14" cy="248.64" r="2.2" fill="#ffffff" stroke="#231815" stroke-width="1.25"/>
<circle cx="490.21" cy="256.26" r="2.2" fill="#ffffff" stroke="#231815" stroke-width="1.25"/>
<circle cx="503.28" cy="256.26" r="2.2" fill="#ffffff" stroke="#231815" stroke-width="1.25"/>
<circle cx="516.35" cy="260.07" r="2.2" fill="#ffffff" stroke="#231815" stroke-width="1.25"/>
<circle cx="529.42" cy="260.61" r="2.2" fill="#ffffff" stroke="#231815" stroke-width="1.25"/>
<circle cx="542.49" cy="260.07" r="2.2" fill="#ffffff" stroke="#231815" stroke-width="1.25"/>
<circle cx="555.56" cy="258.98" r="2.2" fill="#ffffff" stroke="#231815" stroke-width="1.25"/>
<circle cx="568.63" cy="262.79" r="2.2" fill="#ffffff" stroke="#231815" stroke-width="1.25"/>
<line x1="495.1" y1="198.8" x2="504.7" y2="198.8" stroke="#231815" stroke-width="1.2"/>
<circle cx="499.9" cy="198.8" r="1.55" fill="#ffffff" stroke="#231815" stroke-width="1.0"/>
<text x="509.8" y="201.6" font-size="7.3" fill="#231815">Littermate</text>
<line x1="495.1" y1="210.8" x2="504.7" y2="210.8" stroke="#231815" stroke-width="1.2"/>
<circle cx="499.9" cy="210.8" r="1.55" fill="#231815"/>
<text x="509.8" y="213.6" font-size="7.3" fill="#231815">Dlx5/6;ErbB4 KO</text>
<text x="501.4" y="292.8" font-size="7.9" font-weight="bold" text-anchor="middle" fill="#231815">Block of 3 trials</text>
<text x="506.7" y="162.5" font-size="9.15" font-weight="bold" text-anchor="middle" fill="#231815">Extinction Training</text>
<line x1="437.9" y1="346.5" x2="437.9" y2="434.2" stroke="#231815" stroke-width="1.0"/>
<line x1="433.9" y1="433.7" x2="437.9" y2="433.7" stroke="#231815" stroke-width="1.0"/>
<text x="433.5" y="436.3" font-size="8.0" font-weight="bold" text-anchor="end" fill="#231815" textLength="4.14" lengthAdjust="spacingAndGlyphs">0</text>
<line x1="433.9" y1="411.9" x2="437.9" y2="411.9" stroke="#231815" stroke-width="1.0"/>
<text x="433.5" y="414.5" font-size="8.0" font-weight="bold" text-anchor="end" fill="#231815" textLength="8.28" lengthAdjust="spacingAndGlyphs">20</text>
<line x1="433.9" y1="390.1" x2="437.9" y2="390.1" stroke="#231815" stroke-width="1.0"/>
<text x="433.5" y="392.7" font-size="8.0" font-weight="bold" text-anchor="end" fill="#231815" textLength="8.28" lengthAdjust="spacingAndGlyphs">40</text>
<line x1="433.9" y1="368.3" x2="437.9" y2="368.3" stroke="#231815" stroke-width="1.0"/>
<text x="433.5" y="370.9" font-size="8.0" font-weight="bold" text-anchor="end" fill="#231815" textLength="8.28" lengthAdjust="spacingAndGlyphs">60</text>
<line x1="433.9" y1="346.5" x2="437.9" y2="346.5" stroke="#231815" stroke-width="1.0"/>
<text x="433.5" y="349.1" font-size="8.0" font-weight="bold" text-anchor="end" fill="#231815" textLength="8.28" lengthAdjust="spacingAndGlyphs">80</text>
<line x1="437.4" y1="433.7" x2="569.5" y2="433.7" stroke="#231815" stroke-width="1.0"/>
<line x1="451" y1="433.7" x2="451" y2="436.7" stroke="#231815" stroke-width="1.0"/>
<text x="451" y="445.7" font-size="8.0" font-weight="bold" text-anchor="middle" fill="#231815">1</text>
<line x1="464.07" y1="433.7" x2="464.07" y2="436.7" stroke="#231815" stroke-width="1.0"/>
<text x="464.07" y="445.7" font-size="8.0" font-weight="bold" text-anchor="middle" fill="#231815">2</text>
<line x1="477.14" y1="433.7" x2="477.14" y2="436.7" stroke="#231815" stroke-width="1.0"/>
<text x="477.14" y="445.7" font-size="8.0" font-weight="bold" text-anchor="middle" fill="#231815">3</text>
<line x1="490.21" y1="433.7" x2="490.21" y2="436.7" stroke="#231815" stroke-width="1.0"/>
<text x="490.21" y="445.7" font-size="8.0" font-weight="bold" text-anchor="middle" fill="#231815">4</text>
<line x1="503.28" y1="433.7" x2="503.28" y2="436.7" stroke="#231815" stroke-width="1.0"/>
<text x="503.28" y="445.7" font-size="8.0" font-weight="bold" text-anchor="middle" fill="#231815">5</text>
<line x1="516.35" y1="433.7" x2="516.35" y2="436.7" stroke="#231815" stroke-width="1.0"/>
<text x="516.35" y="445.7" font-size="8.0" font-weight="bold" text-anchor="middle" fill="#231815">6</text>
<line x1="529.42" y1="433.7" x2="529.42" y2="436.7" stroke="#231815" stroke-width="1.0"/>
<text x="529.42" y="445.7" font-size="8.0" font-weight="bold" text-anchor="middle" fill="#231815">7</text>
<line x1="542.49" y1="433.7" x2="542.49" y2="436.7" stroke="#231815" stroke-width="1.0"/>
<text x="542.49" y="445.7" font-size="8.0" font-weight="bold" text-anchor="middle" fill="#231815">8</text>
<line x1="555.56" y1="433.7" x2="555.56" y2="436.7" stroke="#231815" stroke-width="1.0"/>
<text x="555.56" y="445.7" font-size="8.0" font-weight="bold" text-anchor="middle" fill="#231815">9</text>
<line x1="568.63" y1="433.7" x2="568.63" y2="436.7" stroke="#231815" stroke-width="1.0"/>
<text x="568.63" y="445.7" font-size="8.0" font-weight="bold" text-anchor="middle" fill="#231815">10</text>
<text x="419.8" y="390.1" font-size="8.0" font-weight="bold" text-anchor="middle" fill="#231815" transform="rotate(-90 419.8 390.1)">Freezing (%)</text>
<line x1="451" y1="378.11" x2="451" y2="387.92" stroke="#231815" stroke-width="0.9"/>
<line x1="448.7" y1="378.11" x2="453.3" y2="378.11" stroke="#231815" stroke-width="0.9"/>
<line x1="448.7" y1="387.92" x2="453.3" y2="387.92" stroke="#231815" stroke-width="0.9"/>
<line x1="464.07" y1="397.19" x2="464.07" y2="408.08" stroke="#231815" stroke-width="0.9"/>
<line x1="461.77" y1="397.19" x2="466.37" y2="397.19" stroke="#231815" stroke-width="0.9"/>
<line x1="461.77" y1="408.08" x2="466.37" y2="408.08" stroke="#231815" stroke-width="0.9"/>
<line x1="477.14" y1="407" x2="477.14" y2="415.71" stroke="#231815" stroke-width="0.9"/>
<line x1="474.84" y1="407" x2="479.44" y2="407" stroke="#231815" stroke-width="0.9"/>
<line x1="474.84" y1="415.71" x2="479.44" y2="415.71" stroke="#231815" stroke-width="0.9"/>
<line x1="490.21" y1="401" x2="490.21" y2="414.08" stroke="#231815" stroke-width="0.9"/>
<line x1="487.91" y1="401" x2="492.51" y2="401" stroke="#231815" stroke-width="0.9"/>
<line x1="487.91" y1="414.08" x2="492.51" y2="414.08" stroke="#231815" stroke-width="0.9"/>
<line x1="503.28" y1="411.35" x2="503.28" y2="420.07" stroke="#231815" stroke-width="0.9"/>
<line x1="500.98" y1="411.35" x2="505.58" y2="411.35" stroke="#231815" stroke-width="0.9"/>
<line x1="500.98" y1="420.07" x2="505.58" y2="420.07" stroke="#231815" stroke-width="0.9"/>
<line x1="516.35" y1="406.45" x2="516.35" y2="417.35" stroke="#231815" stroke-width="0.9"/>
<line x1="514.05" y1="406.45" x2="518.65" y2="406.45" stroke="#231815" stroke-width="0.9"/>
<line x1="514.05" y1="417.35" x2="518.65" y2="417.35" stroke="#231815" stroke-width="0.9"/>
<line x1="529.42" y1="412.99" x2="529.42" y2="421.71" stroke="#231815" stroke-width="0.9"/>
<line x1="527.12" y1="412.99" x2="531.72" y2="412.99" stroke="#231815" stroke-width="0.9"/>
<line x1="527.12" y1="421.71" x2="531.72" y2="421.71" stroke="#231815" stroke-width="0.9"/>
<line x1="542.49" y1="418.99" x2="542.49" y2="424.44" stroke="#231815" stroke-width="0.9"/>
<line x1="540.19" y1="418.99" x2="544.79" y2="418.99" stroke="#231815" stroke-width="0.9"/>
<line x1="540.19" y1="424.44" x2="544.79" y2="424.44" stroke="#231815" stroke-width="0.9"/>
<line x1="555.56" y1="418.44" x2="555.56" y2="423.89" stroke="#231815" stroke-width="0.9"/>
<line x1="553.26" y1="418.44" x2="557.86" y2="418.44" stroke="#231815" stroke-width="0.9"/>
<line x1="553.26" y1="423.89" x2="557.86" y2="423.89" stroke="#231815" stroke-width="0.9"/>
<line x1="568.63" y1="418.44" x2="568.63" y2="424.98" stroke="#231815" stroke-width="0.9"/>
<line x1="566.33" y1="418.44" x2="570.93" y2="418.44" stroke="#231815" stroke-width="0.9"/>
<line x1="566.33" y1="424.98" x2="570.93" y2="424.98" stroke="#231815" stroke-width="0.9"/>
<line x1="451" y1="367.75" x2="451" y2="377.56" stroke="#231815" stroke-width="0.9"/>
<line x1="448.7" y1="367.75" x2="453.3" y2="367.75" stroke="#231815" stroke-width="0.9"/>
<line x1="448.7" y1="377.56" x2="453.3" y2="377.56" stroke="#231815" stroke-width="0.9"/>
<line x1="464.07" y1="379.75" x2="464.07" y2="392.82" stroke="#231815" stroke-width="0.9"/>
<line x1="461.77" y1="379.75" x2="466.37" y2="379.75" stroke="#231815" stroke-width="0.9"/>
<line x1="461.77" y1="392.82" x2="466.37" y2="392.82" stroke="#231815" stroke-width="0.9"/>
<line x1="477.14" y1="389.01" x2="477.14" y2="399.91" stroke="#231815" stroke-width="0.9"/>
<line x1="474.84" y1="389.01" x2="479.44" y2="389.01" stroke="#231815" stroke-width="0.9"/>
<line x1="474.84" y1="399.91" x2="479.44" y2="399.91" stroke="#231815" stroke-width="0.9"/>
<line x1="490.21" y1="395.55" x2="490.21" y2="406.45" stroke="#231815" stroke-width="0.9"/>
<line x1="487.91" y1="395.55" x2="492.51" y2="395.55" stroke="#231815" stroke-width="0.9"/>
<line x1="487.91" y1="406.45" x2="492.51" y2="406.45" stroke="#231815" stroke-width="0.9"/>
<line x1="503.28" y1="410.81" x2="503.28" y2="417.35" stroke="#231815" stroke-width="0.9"/>
<line x1="500.98" y1="410.81" x2="505.58" y2="410.81" stroke="#231815" stroke-width="0.9"/>
<line x1="500.98" y1="417.35" x2="505.58" y2="417.35" stroke="#231815" stroke-width="0.9"/>
<line x1="516.35" y1="404.27" x2="516.35" y2="414.08" stroke="#231815" stroke-width="0.9"/>
<line x1="514.05" y1="404.27" x2="518.65" y2="404.27" stroke="#231815" stroke-width="0.9"/>
<line x1="514.05" y1="414.08" x2="518.65" y2="414.08" stroke="#231815" stroke-width="0.9"/>
<line x1="529.42" y1="411.35" x2="529.42" y2="418.99" stroke="#231815" stroke-width="0.9"/>
<line x1="527.12" y1="411.35" x2="531.72" y2="411.35" stroke="#231815" stroke-width="0.9"/>
<line x1="527.12" y1="418.99" x2="531.72" y2="418.99" stroke="#231815" stroke-width="0.9"/>
<line x1="542.49" y1="414.08" x2="542.49" y2="422.8" stroke="#231815" stroke-width="0.9"/>
<line x1="540.19" y1="414.08" x2="544.79" y2="414.08" stroke="#231815" stroke-width="0.9"/>
<line x1="540.19" y1="422.8" x2="544.79" y2="422.8" stroke="#231815" stroke-width="0.9"/>
<line x1="555.56" y1="411.9" x2="555.56" y2="421.71" stroke="#231815" stroke-width="0.9"/>
<line x1="553.26" y1="411.9" x2="557.86" y2="411.9" stroke="#231815" stroke-width="0.9"/>
<line x1="553.26" y1="421.71" x2="557.86" y2="421.71" stroke="#231815" stroke-width="0.9"/>
<line x1="568.63" y1="412.99" x2="568.63" y2="421.71" stroke="#231815" stroke-width="0.9"/>
<line x1="566.33" y1="412.99" x2="570.93" y2="412.99" stroke="#231815" stroke-width="0.9"/>
<line x1="566.33" y1="421.71" x2="570.93" y2="421.71" stroke="#231815" stroke-width="0.9"/>
<polyline points="451,372.66 464.07,386.28 477.14,394.46 490.21,401 503.28,414.08 516.35,409.18 529.42,415.17 542.49,418.44 555.56,416.81 568.63,417.35" fill="none" stroke="#231815" stroke-width="1.55" stroke-linejoin="round"/>
<polyline points="451,383.01 464.07,402.63 477.14,411.35 490.21,407.54 503.28,415.71 516.35,411.9 529.42,417.35 542.49,421.71 555.56,421.16 568.63,421.71" fill="none" stroke="#231815" stroke-width="1.55" stroke-linejoin="round"/>
<circle cx="451" cy="372.66" r="1.95" fill="#231815"/>
<circle cx="464.07" cy="386.28" r="1.95" fill="#231815"/>
<circle cx="477.14" cy="394.46" r="1.95" fill="#231815"/>
<circle cx="490.21" cy="401" r="1.95" fill="#231815"/>
<circle cx="503.28" cy="414.08" r="1.95" fill="#231815"/>
<circle cx="516.35" cy="409.18" r="1.95" fill="#231815"/>
<circle cx="529.42" cy="415.17" r="1.95" fill="#231815"/>
<circle cx="542.49" cy="418.44" r="1.95" fill="#231815"/>
<circle cx="555.56" cy="416.81" r="1.95" fill="#231815"/>
<circle cx="568.63" cy="417.35" r="1.95" fill="#231815"/>
<circle cx="451" cy="383.01" r="2.2" fill="#ffffff" stroke="#231815" stroke-width="1.25"/>
<circle cx="464.07" cy="402.63" r="2.2" fill="#ffffff" stroke="#231815" stroke-width="1.25"/>
<circle cx="477.14" cy="411.35" r="2.2" fill="#ffffff" stroke="#231815" stroke-width="1.25"/>
<circle cx="490.21" cy="407.54" r="2.2" fill="#ffffff" stroke="#231815" stroke-width="1.25"/>
<circle cx="503.28" cy="415.71" r="2.2" fill="#ffffff" stroke="#231815" stroke-width="1.25"/>
<circle cx="516.35" cy="411.9" r="2.2" fill="#ffffff" stroke="#231815" stroke-width="1.25"/>
<circle cx="529.42" cy="417.35" r="2.2" fill="#ffffff" stroke="#231815" stroke-width="1.25"/>
<circle cx="542.49" cy="421.71" r="2.2" fill="#ffffff" stroke="#231815" stroke-width="1.25"/>
<circle cx="555.56" cy="421.16" r="2.2" fill="#ffffff" stroke="#231815" stroke-width="1.25"/>
<circle cx="568.63" cy="421.71" r="2.2" fill="#ffffff" stroke="#231815" stroke-width="1.25"/>
<line x1="500.4" y1="366.2" x2="510" y2="366.2" stroke="#231815" stroke-width="1.2"/>
<circle cx="505.2" cy="366.2" r="1.55" fill="#ffffff" stroke="#231815" stroke-width="1.0"/>
<text x="513.5" y="369" font-size="8.0" fill="#231815">Littermate</text>
<line x1="500.4" y1="378.4" x2="510" y2="378.4" stroke="#231815" stroke-width="1.2"/>
<circle cx="505.2" cy="378.4" r="1.55" fill="#231815"/>
<text x="513.5" y="381.2" font-size="8.0" fill="#231815">SST;ErbB4 KO</text>
<text x="501.2" y="456.3" font-size="7.9" font-weight="bold" text-anchor="middle" fill="#231815">Block of 3 trials</text>
<line x1="437.8" y1="504.3" x2="437.8" y2="591.8" stroke="#231815" stroke-width="1.0"/>
<line x1="433.8" y1="591.3" x2="437.8" y2="591.3" stroke="#231815" stroke-width="1.0"/>
<text x="433.4" y="593.9" font-size="8.0" font-weight="bold" text-anchor="end" fill="#231815" textLength="4.14" lengthAdjust="spacingAndGlyphs">0</text>
<line x1="433.8" y1="569.55" x2="437.8" y2="569.55" stroke="#231815" stroke-width="1.0"/>
<text x="433.4" y="572.15" font-size="8.0" font-weight="bold" text-anchor="end" fill="#231815" textLength="8.28" lengthAdjust="spacingAndGlyphs">20</text>
<line x1="433.8" y1="547.8" x2="437.8" y2="547.8" stroke="#231815" stroke-width="1.0"/>
<text x="433.4" y="550.4" font-size="8.0" font-weight="bold" text-anchor="end" fill="#231815" textLength="8.28" lengthAdjust="spacingAndGlyphs">40</text>
<line x1="433.8" y1="526.05" x2="437.8" y2="526.05" stroke="#231815" stroke-width="1.0"/>
<text x="433.4" y="528.65" font-size="8.0" font-weight="bold" text-anchor="end" fill="#231815" textLength="8.28" lengthAdjust="spacingAndGlyphs">60</text>
<line x1="433.8" y1="504.3" x2="437.8" y2="504.3" stroke="#231815" stroke-width="1.0"/>
<text x="433.4" y="506.9" font-size="8.0" font-weight="bold" text-anchor="end" fill="#231815" textLength="8.28" lengthAdjust="spacingAndGlyphs">80</text>
<line x1="437.3" y1="591.3" x2="569.5" y2="591.3" stroke="#231815" stroke-width="1.0"/>
<line x1="451" y1="591.3" x2="451" y2="594.3" stroke="#231815" stroke-width="1.0"/>
<text x="451" y="603.6" font-size="8.0" font-weight="bold" text-anchor="middle" fill="#231815">1</text>
<line x1="464.07" y1="591.3" x2="464.07" y2="594.3" stroke="#231815" stroke-width="1.0"/>
<text x="464.07" y="603.6" font-size="8.0" font-weight="bold" text-anchor="middle" fill="#231815">2</text>
<line x1="477.14" y1="591.3" x2="477.14" y2="594.3" stroke="#231815" stroke-width="1.0"/>
<text x="477.14" y="603.6" font-size="8.0" font-weight="bold" text-anchor="middle" fill="#231815">3</text>
<line x1="490.21" y1="591.3" x2="490.21" y2="594.3" stroke="#231815" stroke-width="1.0"/>
<text x="490.21" y="603.6" font-size="8.0" font-weight="bold" text-anchor="middle" fill="#231815">4</text>
<line x1="503.28" y1="591.3" x2="503.28" y2="594.3" stroke="#231815" stroke-width="1.0"/>
<text x="503.28" y="603.6" font-size="8.0" font-weight="bold" text-anchor="middle" fill="#231815">5</text>
<line x1="516.35" y1="591.3" x2="516.35" y2="594.3" stroke="#231815" stroke-width="1.0"/>
<text x="516.35" y="603.6" font-size="8.0" font-weight="bold" text-anchor="middle" fill="#231815">6</text>
<line x1="529.42" y1="591.3" x2="529.42" y2="594.3" stroke="#231815" stroke-width="1.0"/>
<text x="529.42" y="603.6" font-size="8.0" font-weight="bold" text-anchor="middle" fill="#231815">7</text>
<line x1="542.49" y1="591.3" x2="542.49" y2="594.3" stroke="#231815" stroke-width="1.0"/>
<text x="542.49" y="603.6" font-size="8.0" font-weight="bold" text-anchor="middle" fill="#231815">8</text>
<line x1="555.56" y1="591.3" x2="555.56" y2="594.3" stroke="#231815" stroke-width="1.0"/>
<text x="555.56" y="603.6" font-size="8.0" font-weight="bold" text-anchor="middle" fill="#231815">9</text>
<line x1="568.63" y1="591.3" x2="568.63" y2="594.3" stroke="#231815" stroke-width="1.0"/>
<text x="568.63" y="603.6" font-size="8.0" font-weight="bold" text-anchor="middle" fill="#231815">10</text>
<text x="420.4" y="547.8" font-size="8.0" font-weight="bold" text-anchor="middle" fill="#231815" transform="rotate(-90 420.4 547.8)">Freezing (%)</text>
<line x1="451" y1="526.59" x2="451" y2="539.64" stroke="#231815" stroke-width="0.9"/>
<line x1="448.7" y1="526.59" x2="453.3" y2="526.59" stroke="#231815" stroke-width="0.9"/>
<line x1="448.7" y1="539.64" x2="453.3" y2="539.64" stroke="#231815" stroke-width="0.9"/>
<line x1="464.07" y1="543.99" x2="464.07" y2="557.04" stroke="#231815" stroke-width="0.9"/>
<line x1="461.77" y1="543.99" x2="466.37" y2="543.99" stroke="#231815" stroke-width="0.9"/>
<line x1="461.77" y1="557.04" x2="466.37" y2="557.04" stroke="#231815" stroke-width="0.9"/>
<line x1="477.14" y1="556.5" x2="477.14" y2="567.38" stroke="#231815" stroke-width="0.9"/>
<line x1="474.84" y1="556.5" x2="479.44" y2="556.5" stroke="#231815" stroke-width="0.9"/>
<line x1="474.84" y1="567.38" x2="479.44" y2="567.38" stroke="#231815" stroke-width="0.9"/>
<line x1="490.21" y1="566.29" x2="490.21" y2="574.99" stroke="#231815" stroke-width="0.9"/>
<line x1="487.91" y1="566.29" x2="492.51" y2="566.29" stroke="#231815" stroke-width="0.9"/>
<line x1="487.91" y1="574.99" x2="492.51" y2="574.99" stroke="#231815" stroke-width="0.9"/>
<line x1="503.28" y1="557.59" x2="503.28" y2="572.81" stroke="#231815" stroke-width="0.9"/>
<line x1="500.98" y1="557.59" x2="505.58" y2="557.59" stroke="#231815" stroke-width="0.9"/>
<line x1="500.98" y1="572.81" x2="505.58" y2="572.81" stroke="#231815" stroke-width="0.9"/>
<line x1="516.35" y1="562.48" x2="516.35" y2="575.53" stroke="#231815" stroke-width="0.9"/>
<line x1="514.05" y1="562.48" x2="518.65" y2="562.48" stroke="#231815" stroke-width="0.9"/>
<line x1="514.05" y1="575.53" x2="518.65" y2="575.53" stroke="#231815" stroke-width="0.9"/>
<line x1="529.42" y1="574.44" x2="529.42" y2="580.97" stroke="#231815" stroke-width="0.9"/>
<line x1="527.12" y1="574.44" x2="531.72" y2="574.44" stroke="#231815" stroke-width="0.9"/>
<line x1="527.12" y1="580.97" x2="531.72" y2="580.97" stroke="#231815" stroke-width="0.9"/>
<line x1="542.49" y1="574.44" x2="542.49" y2="580.97" stroke="#231815" stroke-width="0.9"/>
<line x1="540.19" y1="574.44" x2="544.79" y2="574.44" stroke="#231815" stroke-width="0.9"/>
<line x1="540.19" y1="580.97" x2="544.79" y2="580.97" stroke="#231815" stroke-width="0.9"/>
<line x1="555.56" y1="564.66" x2="555.56" y2="575.53" stroke="#231815" stroke-width="0.9"/>
<line x1="553.26" y1="564.66" x2="557.86" y2="564.66" stroke="#231815" stroke-width="0.9"/>
<line x1="553.26" y1="575.53" x2="557.86" y2="575.53" stroke="#231815" stroke-width="0.9"/>
<line x1="568.63" y1="554.87" x2="568.63" y2="574.44" stroke="#231815" stroke-width="0.9"/>
<line x1="566.33" y1="554.87" x2="570.93" y2="554.87" stroke="#231815" stroke-width="0.9"/>
<line x1="566.33" y1="574.44" x2="570.93" y2="574.44" stroke="#231815" stroke-width="0.9"/>
<line x1="451" y1="524.96" x2="451" y2="538.01" stroke="#231815" stroke-width="0.9"/>
<line x1="448.7" y1="524.96" x2="453.3" y2="524.96" stroke="#231815" stroke-width="0.9"/>
<line x1="448.7" y1="538.01" x2="453.3" y2="538.01" stroke="#231815" stroke-width="0.9"/>
<line x1="464.07" y1="540.19" x2="464.07" y2="555.41" stroke="#231815" stroke-width="0.9"/>
<line x1="461.77" y1="540.19" x2="466.37" y2="540.19" stroke="#231815" stroke-width="0.9"/>
<line x1="461.77" y1="555.41" x2="466.37" y2="555.41" stroke="#231815" stroke-width="0.9"/>
<line x1="477.14" y1="549.97" x2="477.14" y2="563.02" stroke="#231815" stroke-width="0.9"/>
<line x1="474.84" y1="549.97" x2="479.44" y2="549.97" stroke="#231815" stroke-width="0.9"/>
<line x1="474.84" y1="563.02" x2="479.44" y2="563.02" stroke="#231815" stroke-width="0.9"/>
<line x1="490.21" y1="562.48" x2="490.21" y2="571.18" stroke="#231815" stroke-width="0.9"/>
<line x1="487.91" y1="562.48" x2="492.51" y2="562.48" stroke="#231815" stroke-width="0.9"/>
<line x1="487.91" y1="571.18" x2="492.51" y2="571.18" stroke="#231815" stroke-width="0.9"/>
<line x1="503.28" y1="567.7" x2="503.28" y2="576.4" stroke="#231815" stroke-width="0.9"/>
<line x1="500.98" y1="567.7" x2="505.58" y2="567.7" stroke="#231815" stroke-width="0.9"/>
<line x1="500.98" y1="576.4" x2="505.58" y2="576.4" stroke="#231815" stroke-width="0.9"/>
<line x1="516.35" y1="567.92" x2="516.35" y2="575.53" stroke="#231815" stroke-width="0.9"/>
<line x1="514.05" y1="567.92" x2="518.65" y2="567.92" stroke="#231815" stroke-width="0.9"/>
<line x1="514.05" y1="575.53" x2="518.65" y2="575.53" stroke="#231815" stroke-width="0.9"/>
<line x1="529.42" y1="572.81" x2="529.42" y2="579.34" stroke="#231815" stroke-width="0.9"/>
<line x1="527.12" y1="572.81" x2="531.72" y2="572.81" stroke="#231815" stroke-width="0.9"/>
<line x1="527.12" y1="579.34" x2="531.72" y2="579.34" stroke="#231815" stroke-width="0.9"/>
<line x1="542.49" y1="575.53" x2="542.49" y2="582.06" stroke="#231815" stroke-width="0.9"/>
<line x1="540.19" y1="575.53" x2="544.79" y2="575.53" stroke="#231815" stroke-width="0.9"/>
<line x1="540.19" y1="582.06" x2="544.79" y2="582.06" stroke="#231815" stroke-width="0.9"/>
<line x1="555.56" y1="566.5" x2="555.56" y2="575.2" stroke="#231815" stroke-width="0.9"/>
<line x1="553.26" y1="566.5" x2="557.86" y2="566.5" stroke="#231815" stroke-width="0.9"/>
<line x1="553.26" y1="575.2" x2="557.86" y2="575.2" stroke="#231815" stroke-width="0.9"/>
<line x1="568.63" y1="571.51" x2="568.63" y2="580.21" stroke="#231815" stroke-width="0.9"/>
<line x1="566.33" y1="571.51" x2="570.93" y2="571.51" stroke="#231815" stroke-width="0.9"/>
<line x1="566.33" y1="580.21" x2="570.93" y2="580.21" stroke="#231815" stroke-width="0.9"/>
<polyline points="451,531.49 464.07,547.8 477.14,556.5 490.21,566.83 503.28,572.05 516.35,571.72 529.42,576.07 542.49,578.79 555.56,570.85 568.63,575.86" fill="none" stroke="#231815" stroke-width="1.55" stroke-linejoin="round"/>
<polyline points="451,533.12 464.07,550.52 477.14,561.94 490.21,570.64 503.28,565.2 516.35,569.01 529.42,577.71 542.49,577.71 555.56,570.09 568.63,564.66" fill="none" stroke="#231815" stroke-width="1.55" stroke-linejoin="round"/>
<circle cx="451" cy="531.49" r="1.95" fill="#231815"/>
<circle cx="464.07" cy="547.8" r="1.95" fill="#231815"/>
<circle cx="477.14" cy="556.5" r="1.95" fill="#231815"/>
<circle cx="490.21" cy="566.83" r="1.95" fill="#231815"/>
<circle cx="503.28" cy="572.05" r="1.95" fill="#231815"/>
<circle cx="516.35" cy="571.72" r="1.95" fill="#231815"/>
<circle cx="529.42" cy="576.07" r="1.95" fill="#231815"/>
<circle cx="542.49" cy="578.79" r="1.95" fill="#231815"/>
<circle cx="555.56" cy="570.85" r="1.95" fill="#231815"/>
<circle cx="568.63" cy="575.86" r="1.95" fill="#231815"/>
<circle cx="451" cy="533.12" r="2.2" fill="#ffffff" stroke="#231815" stroke-width="1.25"/>
<circle cx="464.07" cy="550.52" r="2.2" fill="#ffffff" stroke="#231815" stroke-width="1.25"/>
<circle cx="477.14" cy="561.94" r="2.2" fill="#ffffff" stroke="#231815" stroke-width="1.25"/>
<circle cx="490.21" cy="570.64" r="2.2" fill="#ffffff" stroke="#231815" stroke-width="1.25"/>
<circle cx="503.28" cy="565.2" r="2.2" fill="#ffffff" stroke="#231815" stroke-width="1.25"/>
<circle cx="516.35" cy="569.01" r="2.2" fill="#ffffff" stroke="#231815" stroke-width="1.25"/>
<circle cx="529.42" cy="577.71" r="2.2" fill="#ffffff" stroke="#231815" stroke-width="1.25"/>
<circle cx="542.49" cy="577.71" r="2.2" fill="#ffffff" stroke="#231815" stroke-width="1.25"/>
<circle cx="555.56" cy="570.09" r="2.2" fill="#ffffff" stroke="#231815" stroke-width="1.25"/>
<circle cx="568.63" cy="564.66" r="2.2" fill="#ffffff" stroke="#231815" stroke-width="1.25"/>
<line x1="501" y1="523.4" x2="510.6" y2="523.4" stroke="#231815" stroke-width="1.2"/>
<circle cx="505.8" cy="523.4" r="1.55" fill="#ffffff" stroke="#231815" stroke-width="1.0"/>
<text x="513.7" y="526.2" font-size="8.0" fill="#231815">Littermate</text>
<line x1="501" y1="535.4" x2="510.6" y2="535.4" stroke="#231815" stroke-width="1.2"/>
<circle cx="505.8" cy="535.4" r="1.55" fill="#231815"/>
<text x="513.7" y="538.2" font-size="8.0" fill="#231815">VIP;ErbB4 KO</text>
<text x="501.6" y="613.8" font-size="7.9" font-weight="bold" text-anchor="middle" fill="#231815">Block of 3 trials</text>
<line x1="184.4" y1="182.1" x2="184.4" y2="273.9" stroke="#231815" stroke-width="1.0"/>
<line x1="180.4" y1="273.4" x2="184.4" y2="273.4" stroke="#231815" stroke-width="1.0"/>
<text x="180" y="276" font-size="8.0" font-weight="bold" text-anchor="end" fill="#231815" textLength="4.14" lengthAdjust="spacingAndGlyphs">0</text>
<line x1="180.4" y1="255.14" x2="184.4" y2="255.14" stroke="#231815" stroke-width="1.0"/>
<text x="180" y="257.74" font-size="8.0" font-weight="bold" text-anchor="end" fill="#231815" textLength="8.28" lengthAdjust="spacingAndGlyphs">20</text>
<line x1="180.4" y1="236.88" x2="184.4" y2="236.88" stroke="#231815" stroke-width="1.0"/>
<text x="180" y="239.48" font-size="8.0" font-weight="bold" text-anchor="end" fill="#231815" textLength="8.28" lengthAdjust="spacingAndGlyphs">40</text>
<line x1="180.4" y1="218.62" x2="184.4" y2="218.62" stroke="#231815" stroke-width="1.0"/>
<text x="180" y="221.22" font-size="8.0" font-weight="bold" text-anchor="end" fill="#231815" textLength="8.28" lengthAdjust="spacingAndGlyphs">60</text>
<line x1="180.4" y1="200.36" x2="184.4" y2="200.36" stroke="#231815" stroke-width="1.0"/>
<text x="180" y="202.96" font-size="8.0" font-weight="bold" text-anchor="end" fill="#231815" textLength="8.28" lengthAdjust="spacingAndGlyphs">80</text>
<line x1="180.4" y1="182.1" x2="184.4" y2="182.1" stroke="#231815" stroke-width="1.0"/>
<text x="180" y="184.7" font-size="8.0" font-weight="bold" text-anchor="end" fill="#231815" textLength="12.41" lengthAdjust="spacingAndGlyphs">100</text>
<text x="164.2" y="227" font-size="8.0" font-weight="bold" text-anchor="middle" fill="#231815" transform="rotate(-90 164.2 227)">Freezing (%)</text>
<line x1="184.4" y1="273.4" x2="244.9" y2="273.4" stroke="#231815" stroke-width="1.0"/>
<line x1="201.4" y1="273.4" x2="201.4" y2="276.4" stroke="#231815" stroke-width="1.0"/>
<line x1="227.5" y1="273.4" x2="227.5" y2="276.4" stroke="#231815" stroke-width="1.0"/>
<rect x="194" y="200" width="14.8" height="73.4" fill="#ffffff" stroke="#231815" stroke-width="1.4"/>
<rect x="220.1" y="202.2" width="14.8" height="71.2" fill="#a09fa4" stroke="#231815" stroke-width="1.4"/>
<circle cx="201.4" cy="184" r="1.5" fill="#ffffff" stroke="#231815" stroke-width="1.0"/>
<circle cx="201.4" cy="188" r="1.5" fill="#ffffff" stroke="#231815" stroke-width="1.0"/>
<circle cx="201.4" cy="191" r="1.5" fill="#ffffff" stroke="#231815" stroke-width="1.0"/>
<circle cx="201.4" cy="194.5" r="1.5" fill="#ffffff" stroke="#231815" stroke-width="1.0"/>
<circle cx="201.4" cy="197" r="1.5" fill="#ffffff" stroke="#231815" stroke-width="1.0"/>
<circle cx="201.4" cy="199" r="1.5" fill="#ffffff" stroke="#231815" stroke-width="1.0"/>
<circle cx="201.4" cy="212" r="1.5" fill="#ffffff" stroke="#231815" stroke-width="1.0"/>
<circle cx="201.4" cy="223" r="1.5" fill="#ffffff" stroke="#231815" stroke-width="1.0"/>
<circle cx="201.4" cy="224.5" r="1.5" fill="#ffffff" stroke="#231815" stroke-width="1.0"/>
<circle cx="227.5" cy="187.8" r="1.6" fill="#231815"/>
<circle cx="227.5" cy="190.16" r="1.6" fill="#231815"/>
<circle cx="227.5" cy="192.51" r="1.6" fill="#231815"/>
<circle cx="227.5" cy="194.87" r="1.6" fill="#231815"/>
<circle cx="227.5" cy="197.22" r="1.6" fill="#231815"/>
<circle cx="227.5" cy="199.58" r="1.6" fill="#231815"/>
<circle cx="227.5" cy="201.93" r="1.6" fill="#231815"/>
<circle cx="227.5" cy="204.29" r="1.6" fill="#231815"/>
<circle cx="227.5" cy="206.64" r="1.6" fill="#231815"/>
<circle cx="227.5" cy="209" r="1.6" fill="#231815"/>
<circle cx="227.5" cy="220" r="1.6" fill="#231815"/>
<circle cx="227.5" cy="222.5" r="1.6" fill="#231815"/>
<circle cx="227.5" cy="225" r="1.6" fill="#231815"/>
<circle cx="227.5" cy="227" r="1.6" fill="#231815"/>
<line x1="201.4" y1="196.4" x2="201.4" y2="201.9" stroke="#231815" stroke-width="1.0"/>
<line x1="197.5" y1="196.4" x2="205.3" y2="196.4" stroke="#231815" stroke-width="1.0"/>
<line x1="197.5" y1="201.9" x2="205.3" y2="201.9" stroke="#231815" stroke-width="1.0"/>
<line x1="227.5" y1="199" x2="227.5" y2="204.7" stroke="#231815" stroke-width="1.0"/>
<line x1="223.6" y1="199" x2="231.4" y2="199" stroke="#231815" stroke-width="1.0"/>
<line x1="223.6" y1="204.7" x2="231.4" y2="204.7" stroke="#231815" stroke-width="1.0"/>
<text x="203.6" y="281.8" font-size="8.0" font-weight="bold" text-anchor="end" fill="#231815" transform="rotate(-45 203.6 281.8)">Littermate</text>
<text x="232.7" y="281.8" font-size="8.0" font-weight="bold" text-anchor="end" fill="#231815" transform="rotate(-45 232.7 281.8)">Dlx5/6;ErbB4 KO</text>
<line x1="248.1" y1="273.4" x2="308.9" y2="273.4" stroke="#231815" stroke-width="1.0"/>
<line x1="265.4" y1="273.4" x2="265.4" y2="276.4" stroke="#231815" stroke-width="1.0"/>
<line x1="291.5" y1="273.4" x2="291.5" y2="276.4" stroke="#231815" stroke-width="1.0"/>
<rect x="258" y="244.2" width="14.8" height="29.2" fill="#ffffff" stroke="#231815" stroke-width="1.4"/>
<rect x="284.1" y="229.8" width="14.8" height="43.6" fill="#a09fa4" stroke="#231815" stroke-width="1.4"/>
<circle cx="265.4" cy="204.7" r="1.5" fill="#ffffff" stroke="#231815" stroke-width="1.0"/>
<circle cx="265.4" cy="212.6" r="1.5" fill="#ffffff" stroke="#231815" stroke-width="1.0"/>
<circle cx="265.4" cy="217.2" r="1.5" fill="#ffffff" stroke="#231815" stroke-width="1.0"/>
<circle cx="265.4" cy="228.2" r="1.5" fill="#ffffff" stroke="#231815" stroke-width="1.0"/>
<circle cx="265.4" cy="237.6" r="1.5" fill="#ffffff" stroke="#231815" stroke-width="1.0"/>
<circle cx="265.4" cy="241.8" r="1.5" fill="#ffffff" stroke="#231815" stroke-width="1.0"/>
<circle cx="265.4" cy="244.2" r="1.5" fill="#ffffff" stroke="#231815" stroke-width="1.0"/>
<circle cx="265.4" cy="246.5" r="1.5" fill="#ffffff" stroke="#231815" stroke-width="1.0"/>
<circle cx="265.4" cy="256.4" r="1.5" fill="#ffffff" stroke="#231815" stroke-width="1.0"/>
<circle cx="265.4" cy="260.6" r="1.5" fill="#ffffff" stroke="#231815" stroke-width="1.0"/>
<circle cx="265.4" cy="265.3" r="1.5" fill="#ffffff" stroke="#231815" stroke-width="1.0"/>
<circle cx="265.4" cy="268" r="1.5" fill="#ffffff" stroke="#231815" stroke-width="1.0"/>
<circle cx="265.4" cy="270.8" r="1.5" fill="#ffffff" stroke="#231815" stroke-width="1.0"/>
<circle cx="265.4" cy="273.5" r="1.5" fill="#ffffff" stroke="#231815" stroke-width="1.0"/>
<circle cx="291.5" cy="193.3" r="1.6" fill="#231815"/>
<circle cx="291.5" cy="204.3" r="1.6" fill="#231815"/>
<circle cx="291.5" cy="209.7" r="1.6" fill="#231815"/>
<circle cx="291.5" cy="212" r="1.6" fill="#231815"/>
<circle cx="291.5" cy="214.33" r="1.6" fill="#231815"/>
<circle cx="291.5" cy="216.67" r="1.6" fill="#231815"/>
<circle cx="291.5" cy="219" r="1.6" fill="#231815"/>
<circle cx="291.5" cy="221" r="1.6" fill="#231815"/>
<circle cx="291.5" cy="223" r="1.6" fill="#231815"/>
<circle cx="291.5" cy="225" r="1.6" fill="#231815"/>
<circle cx="291.5" cy="227" r="1.6" fill="#231815"/>
<circle cx="291.5" cy="229.3" r="1.6" fill="#231815"/>
<circle cx="291.5" cy="231.6" r="1.6" fill="#231815"/>
<circle cx="291.5" cy="237" r="1.6" fill="#231815"/>
<circle cx="291.5" cy="238.7" r="1.6" fill="#231815"/>
<circle cx="291.5" cy="244" r="1.6" fill="#231815"/>
<circle cx="291.5" cy="245.7" r="1.6" fill="#231815"/>
<circle cx="291.5" cy="251" r="1.6" fill="#231815"/>
<circle cx="291.5" cy="253.5" r="1.6" fill="#231815"/>
<circle cx="291.5" cy="272.3" r="1.6" fill="#231815"/>
<line x1="265.4" y1="238.2" x2="265.4" y2="248.9" stroke="#231815" stroke-width="1.0"/>
<line x1="261.5" y1="238.2" x2="269.3" y2="238.2" stroke="#231815" stroke-width="1.0"/>
<line x1="261.5" y1="248.9" x2="269.3" y2="248.9" stroke="#231815" stroke-width="1.0"/>
<line x1="291.5" y1="225.4" x2="291.5" y2="233.2" stroke="#231815" stroke-width="1.0"/>
<line x1="287.6" y1="225.4" x2="295.4" y2="225.4" stroke="#231815" stroke-width="1.0"/>
<line x1="287.6" y1="233.2" x2="295.4" y2="233.2" stroke="#231815" stroke-width="1.0"/>
<text x="267.6" y="281.8" font-size="8.0" font-weight="bold" text-anchor="end" fill="#231815" transform="rotate(-45 267.6 281.8)">Littermate</text>
<text x="296.7" y="281.8" font-size="8.0" font-weight="bold" text-anchor="end" fill="#231815" transform="rotate(-45 296.7 281.8)">Dlx5/6;ErbB4 KO</text>
<path d="M265.4,200.3 L265.4,188.9 L291.5,188.9 L291.5,191.7" fill="none" stroke="#3d3736" stroke-width="0.95"/>
<polygon points="278.45,181.2 279.16,182.43 280.54,182.72 279.59,183.77 279.74,185.18 278.45,184.6 277.16,185.18 277.31,183.77 276.36,182.72 277.74,182.43" fill="#231815"/>
<line x1="341.4" y1="179.3" x2="341.4" y2="272.9" stroke="#231815" stroke-width="1.0"/>
<line x1="337.4" y1="272.4" x2="341.4" y2="272.4" stroke="#231815" stroke-width="1.0"/>
<text x="337" y="275" font-size="8.0" font-weight="bold" text-anchor="end" fill="#231815" textLength="10.34" lengthAdjust="spacingAndGlyphs">0.0</text>
<line x1="337.4" y1="241.37" x2="341.4" y2="241.37" stroke="#231815" stroke-width="1.0"/>
<text x="337" y="243.97" font-size="8.0" font-weight="bold" text-anchor="end" fill="#231815" textLength="10.34" lengthAdjust="spacingAndGlyphs">0.5</text>
<line x1="337.4" y1="210.33" x2="341.4" y2="210.33" stroke="#231815" stroke-width="1.0"/>
<text x="337" y="212.93" font-size="8.0" font-weight="bold" text-anchor="end" fill="#231815" textLength="10.34" lengthAdjust="spacingAndGlyphs">1.0</text>
<line x1="337.4" y1="179.3" x2="341.4" y2="179.3" stroke="#231815" stroke-width="1.0"/>
<text x="337" y="181.9" font-size="8.0" font-weight="bold" text-anchor="end" fill="#231815" textLength="10.34" lengthAdjust="spacingAndGlyphs">1.5</text>
<text x="321.4" y="226.4" font-size="8.0" font-weight="bold" text-anchor="middle" fill="#231815" transform="rotate(-90 321.4 226.4)">Generalization index</text>
<line x1="341.4" y1="272.4" x2="403.8" y2="272.4" stroke="#231815" stroke-width="1.0"/>
<line x1="359.7" y1="272.4" x2="359.7" y2="275.4" stroke="#231815" stroke-width="1.0"/>
<line x1="386" y1="272.4" x2="386" y2="275.4" stroke="#231815" stroke-width="1.0"/>
<rect x="352.3" y="248.9" width="14.8" height="23.5" fill="#ffffff" stroke="#231815" stroke-width="1.4"/>
<rect x="378.6" y="235.1" width="14.8" height="37.3" fill="#a09fa4" stroke="#231815" stroke-width="1.4"/>
<circle cx="359.7" cy="221.5" r="1.5" fill="#ffffff" stroke="#231815" stroke-width="1.0"/>
<circle cx="359.7" cy="226.2" r="1.5" fill="#ffffff" stroke="#231815" stroke-width="1.0"/>
<circle cx="359.7" cy="228.5" r="1.5" fill="#ffffff" stroke="#231815" stroke-width="1.0"/>
<circle cx="359.7" cy="230.9" r="1.5" fill="#ffffff" stroke="#231815" stroke-width="1.0"/>
<circle cx="359.7" cy="245.7" r="1.5" fill="#ffffff" stroke="#231815" stroke-width="1.0"/>
<circle cx="359.7" cy="248" r="1.5" fill="#ffffff" stroke="#231815" stroke-width="1.0"/>
<circle cx="359.7" cy="250.5" r="1.5" fill="#ffffff" stroke="#231815" stroke-width="1.0"/>
<circle cx="359.7" cy="253.6" r="1.5" fill="#ffffff" stroke="#231815" stroke-width="1.0"/>
<circle cx="359.7" cy="260.6" r="1.5" fill="#ffffff" stroke="#231815" stroke-width="1.0"/>
<circle cx="359.7" cy="263" r="1.5" fill="#ffffff" stroke="#231815" stroke-width="1.0"/>
<circle cx="359.7" cy="265.8" r="1.5" fill="#ffffff" stroke="#231815" stroke-width="1.0"/>
<circle cx="359.7" cy="270.8" r="1.5" fill="#ffffff" stroke="#231815" stroke-width="1.0"/>
<circle cx="359.7" cy="273.9" r="1.5" fill="#ffffff" stroke="#231815" stroke-width="1.0"/>
<circle cx="386" cy="210.5" r="1.6" fill="#231815"/>
<circle cx="386" cy="220.7" r="1.6" fill="#231815"/>
<circle cx="386" cy="223.13" r="1.6" fill="#231815"/>
<circle cx="386" cy="225.57" r="1.6" fill="#231815"/>
<circle cx="386" cy="228" r="1.6" fill="#231815"/>
<circle cx="386" cy="230.43" r="1.6" fill="#231815"/>
<circle cx="386" cy="232.87" r="1.6" fill="#231815"/>
<circle cx="386" cy="235.3" r="1.6" fill="#231815"/>
<circle cx="386" cy="237.73" r="1.6" fill="#231815"/>
<circle cx="386" cy="240.17" r="1.6" fill="#231815"/>
<circle cx="386" cy="242.6" r="1.6" fill="#231815"/>
<circle cx="386" cy="248.9" r="1.6" fill="#231815"/>
<circle cx="386" cy="255.9" r="1.6" fill="#231815"/>
<circle cx="386" cy="258.2" r="1.6" fill="#231815"/>
<circle cx="386" cy="271.5" r="1.6" fill="#231815"/>
<line x1="359.7" y1="244.2" x2="359.7" y2="252.8" stroke="#231815" stroke-width="1.0"/>
<line x1="355.8" y1="244.2" x2="363.6" y2="244.2" stroke="#231815" stroke-width="1.0"/>
<line x1="355.8" y1="252.8" x2="363.6" y2="252.8" stroke="#231815" stroke-width="1.0"/>
<line x1="386" y1="231.3" x2="386" y2="238.2" stroke="#231815" stroke-width="1.0"/>
<line x1="382.1" y1="231.3" x2="389.9" y2="231.3" stroke="#231815" stroke-width="1.0"/>
<line x1="382.1" y1="238.2" x2="389.9" y2="238.2" stroke="#231815" stroke-width="1.0"/>
<text x="361.9" y="280.8" font-size="8.0" font-weight="bold" text-anchor="end" fill="#231815" transform="rotate(-45 361.9 280.8)">Littermate</text>
<text x="391.2" y="280.8" font-size="8.0" font-weight="bold" text-anchor="end" fill="#231815" transform="rotate(-45 391.2 280.8)">Dlx5/6;ErbB4 KO</text>
<path d="M359.7,215.2 L359.7,199.6 L386,199.6 L386,205" fill="none" stroke="#3d3736" stroke-width="0.95"/>
<polygon points="372.85,192 373.56,193.23 374.94,193.52 373.99,194.57 374.14,195.98 372.85,195.4 371.56,195.98 371.71,194.57 370.76,193.52 372.14,193.23" fill="#231815"/>
<text x="282" y="162.3" font-size="9.15" font-weight="bold" text-anchor="middle" fill="#231815">Generalization Test</text>
<text x="214.4" y="176" font-size="8.2" font-weight="bold" text-anchor="middle" fill="#231815">CS</text>
<text x="277.8" y="175.9" font-size="7.7" font-weight="bold" text-anchor="middle" fill="#231815">Novel Cue</text>
<text x="372.5" y="172.5" font-size="7.8" font-weight="bold" text-anchor="middle" fill="#231815">Generalization</text>
<text x="372.5" y="181.7" font-size="7.8" font-weight="bold" text-anchor="middle" fill="#231815">index</text>
<line x1="621.2" y1="179" x2="621.2" y2="272.8" stroke="#231815" stroke-width="1.0"/>
<line x1="617.2" y1="272.3" x2="621.2" y2="272.3" stroke="#231815" stroke-width="1.0"/>
<text x="616.8" y="274.9" font-size="8.0" font-weight="bold" text-anchor="end" fill="#231815" textLength="4.14" lengthAdjust="spacingAndGlyphs">0</text>
<line x1="617.2" y1="253.64" x2="621.2" y2="253.64" stroke="#231815" stroke-width="1.0"/>
<text x="616.8" y="256.24" font-size="8.0" font-weight="bold" text-anchor="end" fill="#231815" textLength="8.28" lengthAdjust="spacingAndGlyphs">20</text>
<line x1="617.2" y1="234.98" x2="621.2" y2="234.98" stroke="#231815" stroke-width="1.0"/>
<text x="616.8" y="237.58" font-size="8.0" font-weight="bold" text-anchor="end" fill="#231815" textLength="8.28" lengthAdjust="spacingAndGlyphs">40</text>
<line x1="617.2" y1="216.32" x2="621.2" y2="216.32" stroke="#231815" stroke-width="1.0"/>
<text x="616.8" y="218.92" font-size="8.0" font-weight="bold" text-anchor="end" fill="#231815" textLength="8.28" lengthAdjust="spacingAndGlyphs">60</text>
<line x1="617.2" y1="197.66" x2="621.2" y2="197.66" stroke="#231815" stroke-width="1.0"/>
<text x="616.8" y="200.26" font-size="8.0" font-weight="bold" text-anchor="end" fill="#231815" textLength="8.28" lengthAdjust="spacingAndGlyphs">80</text>
<line x1="617.2" y1="179" x2="621.2" y2="179" stroke="#231815" stroke-width="1.0"/>
<text x="616.8" y="181.6" font-size="8.0" font-weight="bold" text-anchor="end" fill="#231815" textLength="12.41" lengthAdjust="spacingAndGlyphs">100</text>
<text x="599.4" y="225.4" font-size="8.0" font-weight="bold" text-anchor="middle" fill="#231815" transform="rotate(-90 599.4 225.4)">Freezing (%)</text>
<line x1="621.2" y1="272.3" x2="686" y2="272.3" stroke="#231815" stroke-width="1.0"/>
<line x1="639" y1="272.3" x2="639" y2="275.3" stroke="#231815" stroke-width="1.0"/>
<line x1="665.8" y1="272.3" x2="665.8" y2="275.3" stroke="#231815" stroke-width="1.0"/>
<rect x="631.2" y="254.3" width="15.6" height="18" fill="#ffffff" stroke="#231815" stroke-width="1.4"/>
<rect x="658" y="237.1" width="15.6" height="35.2" fill="#a09fa4" stroke="#231815" stroke-width="1.4"/>
<circle cx="639" cy="232.3" r="1.5" fill="#ffffff" stroke="#231815" stroke-width="1.0"/>
<circle cx="639" cy="238" r="1.5" fill="#ffffff" stroke="#231815" stroke-width="1.0"/>
<circle cx="639" cy="240" r="1.5" fill="#ffffff" stroke="#231815" stroke-width="1.0"/>
<circle cx="639" cy="242" r="1.5" fill="#ffffff" stroke="#231815" stroke-width="1.0"/>
<circle cx="639" cy="244" r="1.5" fill="#ffffff" stroke="#231815" stroke-width="1.0"/>
<circle cx="639" cy="262" r="1.5" fill="#ffffff" stroke="#231815" stroke-width="1.0"/>
<circle cx="639" cy="264" r="1.5" fill="#ffffff" stroke="#231815" stroke-width="1.0"/>
<circle cx="639" cy="266" r="1.5" fill="#ffffff" stroke="#231815" stroke-width="1.0"/>
<circle cx="639" cy="268" r="1.5" fill="#ffffff" stroke="#231815" stroke-width="1.0"/>
<circle cx="639" cy="270" r="1.5" fill="#ffffff" stroke="#231815" stroke-width="1.0"/>
<circle cx="639" cy="272" r="1.5" fill="#ffffff" stroke="#231815" stroke-width="1.0"/>
<circle cx="665.8" cy="185.1" r="1.6" fill="#231815"/>
<circle cx="665.8" cy="200.1" r="1.6" fill="#231815"/>
<circle cx="665.8" cy="206" r="1.6" fill="#231815"/>
<circle cx="665.8" cy="208" r="1.6" fill="#231815"/>
<circle cx="665.8" cy="210" r="1.6" fill="#231815"/>
<circle cx="665.8" cy="211.3" r="1.6" fill="#231815"/>
<circle cx="665.8" cy="226" r="1.6" fill="#231815"/>
<circle cx="665.8" cy="231.1" r="1.6" fill="#231815"/>
<circle cx="665.8" cy="245.7" r="1.6" fill="#231815"/>
<circle cx="665.8" cy="248.28" r="1.6" fill="#231815"/>
<circle cx="665.8" cy="250.87" r="1.6" fill="#231815"/>
<circle cx="665.8" cy="253.45" r="1.6" fill="#231815"/>
<circle cx="665.8" cy="256.03" r="1.6" fill="#231815"/>
<circle cx="665.8" cy="258.62" r="1.6" fill="#231815"/>
<circle cx="665.8" cy="261.2" r="1.6" fill="#231815"/>
<line x1="639" y1="250" x2="639" y2="257.4" stroke="#231815" stroke-width="1.0"/>
<line x1="635.1" y1="250" x2="642.9" y2="250" stroke="#231815" stroke-width="1.0"/>
<line x1="635.1" y1="257.4" x2="642.9" y2="257.4" stroke="#231815" stroke-width="1.0"/>
<line x1="665.8" y1="231.4" x2="665.8" y2="240.9" stroke="#231815" stroke-width="1.0"/>
<line x1="661.9" y1="231.4" x2="669.7" y2="231.4" stroke="#231815" stroke-width="1.0"/>
<line x1="661.9" y1="240.9" x2="669.7" y2="240.9" stroke="#231815" stroke-width="1.0"/>
<text x="641.2" y="280.7" font-size="8.0" font-weight="bold" text-anchor="end" fill="#231815" transform="rotate(-45 641.2 280.7)">Littermate</text>
<text x="671" y="280.7" font-size="8.0" font-weight="bold" text-anchor="end" fill="#231815" transform="rotate(-45 671 280.7)">Dlx5/6;ErbB4 KO</text>
<path d="M638.6,226.5 L638.6,180 L665.8,180 L665.8,181.2" fill="none" stroke="#3d3736" stroke-width="0.95"/>
<polygon points="652.2,172.2 652.91,173.43 654.29,173.72 653.34,174.77 653.49,176.18 652.2,175.6 650.91,176.18 651.06,174.77 650.11,173.72 651.49,173.43" fill="#231815"/>
<text x="643.4" y="153.3" font-size="9.2" font-weight="bold" text-anchor="middle" fill="#231815">Extinction</text>
<text x="644.9" y="164.3" font-size="9.2" font-weight="bold" text-anchor="middle" fill="#231815">Memory Test</text>
<line x1="183.4" y1="344.4" x2="183.4" y2="436.3" stroke="#231815" stroke-width="1.0"/>
<line x1="179.4" y1="435.8" x2="183.4" y2="435.8" stroke="#231815" stroke-width="1.0"/>
<text x="179" y="438.4" font-size="8.0" font-weight="bold" text-anchor="end" fill="#231815" textLength="4.14" lengthAdjust="spacingAndGlyphs">0</text>
<line x1="179.4" y1="417.52" x2="183.4" y2="417.52" stroke="#231815" stroke-width="1.0"/>
<text x="179" y="420.12" font-size="8.0" font-weight="bold" text-anchor="end" fill="#231815" textLength="8.28" lengthAdjust="spacingAndGlyphs">20</text>
<line x1="179.4" y1="399.24" x2="183.4" y2="399.24" stroke="#231815" stroke-width="1.0"/>
<text x="179" y="401.84" font-size="8.0" font-weight="bold" text-anchor="end" fill="#231815" textLength="8.28" lengthAdjust="spacingAndGlyphs">40</text>
<line x1="179.4" y1="380.96" x2="183.4" y2="380.96" stroke="#231815" stroke-width="1.0"/>
<text x="179" y="383.56" font-size="8.0" font-weight="bold" text-anchor="end" fill="#231815" textLength="8.28" lengthAdjust="spacingAndGlyphs">60</text>
<line x1="179.4" y1="362.68" x2="183.4" y2="362.68" stroke="#231815" stroke-width="1.0"/>
<text x="179" y="365.28" font-size="8.0" font-weight="bold" text-anchor="end" fill="#231815" textLength="8.28" lengthAdjust="spacingAndGlyphs">80</text>
<line x1="179.4" y1="344.4" x2="183.4" y2="344.4" stroke="#231815" stroke-width="1.0"/>
<text x="179" y="347" font-size="8.0" font-weight="bold" text-anchor="end" fill="#231815" textLength="12.41" lengthAdjust="spacingAndGlyphs">100</text>
<text x="163.4" y="389" font-size="8.0" font-weight="bold" text-anchor="middle" fill="#231815" transform="rotate(-90 163.4 389)">Freezing (%)</text>
<line x1="183.4" y1="435.8" x2="244.5" y2="435.8" stroke="#231815" stroke-width="1.0"/>
<line x1="201.05" y1="435.8" x2="201.05" y2="438.8" stroke="#231815" stroke-width="1.0"/>
<line x1="227.05" y1="435.8" x2="227.05" y2="438.8" stroke="#231815" stroke-width="1.0"/>
<rect x="193.65" y="368.5" width="14.8" height="67.3" fill="#ffffff" stroke="#231815" stroke-width="1.4"/>
<rect x="219.65" y="366.3" width="14.8" height="69.5" fill="#a09fa4" stroke="#231815" stroke-width="1.4"/>
<circle cx="201.05" cy="347.8" r="1.5" fill="#ffffff" stroke="#231815" stroke-width="1.0"/>
<circle cx="201.05" cy="349.4" r="1.5" fill="#ffffff" stroke="#231815" stroke-width="1.0"/>
<circle cx="201.05" cy="351" r="1.5" fill="#ffffff" stroke="#231815" stroke-width="1.0"/>
<circle cx="201.05" cy="356.4" r="1.5" fill="#ffffff" stroke="#231815" stroke-width="1.0"/>
<circle cx="201.05" cy="358.5" r="1.5" fill="#ffffff" stroke="#231815" stroke-width="1.0"/>
<circle cx="201.05" cy="364.7" r="1.5" fill="#ffffff" stroke="#231815" stroke-width="1.0"/>
<circle cx="201.05" cy="369" r="1.5" fill="#ffffff" stroke="#231815" stroke-width="1.0"/>
<circle cx="201.05" cy="371.3" r="1.5" fill="#ffffff" stroke="#231815" stroke-width="1.0"/>
<circle cx="201.05" cy="373.6" r="1.5" fill="#ffffff" stroke="#231815" stroke-width="1.0"/>
<circle cx="201.05" cy="380.7" r="1.5" fill="#ffffff" stroke="#231815" stroke-width="1.0"/>
<circle cx="201.05" cy="386.2" r="1.5" fill="#ffffff" stroke="#231815" stroke-width="1.0"/>
<circle cx="201.05" cy="388.5" r="1.5" fill="#ffffff" stroke="#231815" stroke-width="1.0"/>
<circle cx="201.05" cy="392.4" r="1.5" fill="#ffffff" stroke="#231815" stroke-width="1.0"/>
<circle cx="227.05" cy="352.5" r="1.6" fill="#231815"/>
<circle cx="227.05" cy="354.65" r="1.6" fill="#231815"/>
<circle cx="227.05" cy="356.8" r="1.6" fill="#231815"/>
<circle cx="227.05" cy="358.95" r="1.6" fill="#231815"/>
<circle cx="227.05" cy="361.1" r="1.6" fill="#231815"/>
<circle cx="227.05" cy="363.25" r="1.6" fill="#231815"/>
<circle cx="227.05" cy="365.4" r="1.6" fill="#231815"/>
<circle cx="227.05" cy="367.55" r="1.6" fill="#231815"/>
<circle cx="227.05" cy="369.7" r="1.6" fill="#231815"/>
<circle cx="227.05" cy="378.3" r="1.6" fill="#231815"/>
<circle cx="227.05" cy="390.9" r="1.6" fill="#231815"/>
<circle cx="227.05" cy="395.6" r="1.6" fill="#231815"/>
<circle cx="227.05" cy="397.9" r="1.6" fill="#231815"/>
<line x1="201.05" y1="364.3" x2="201.05" y2="372" stroke="#231815" stroke-width="1.0"/>
<line x1="197.15" y1="364.3" x2="204.95" y2="364.3" stroke="#231815" stroke-width="1.0"/>
<line x1="197.15" y1="372" x2="204.95" y2="372" stroke="#231815" stroke-width="1.0"/>
<line x1="227.05" y1="362.2" x2="227.05" y2="369.4" stroke="#231815" stroke-width="1.0"/>
<line x1="223.15" y1="362.2" x2="230.95" y2="362.2" stroke="#231815" stroke-width="1.0"/>
<line x1="223.15" y1="369.4" x2="230.95" y2="369.4" stroke="#231815" stroke-width="1.0"/>
<text x="203.25" y="444.2" font-size="8.0" font-weight="bold" text-anchor="end" fill="#231815" transform="rotate(-45 203.25 444.2)">Littermate</text>
<text x="232.25" y="444.2" font-size="8.0" font-weight="bold" text-anchor="end" fill="#231815" transform="rotate(-45 232.25 444.2)">SST;ErbB4 KO</text>
<line x1="246.9" y1="435.8" x2="308" y2="435.8" stroke="#231815" stroke-width="1.0"/>
<line x1="264.6" y1="435.8" x2="264.6" y2="438.8" stroke="#231815" stroke-width="1.0"/>
<line x1="290.6" y1="435.8" x2="290.6" y2="438.8" stroke="#231815" stroke-width="1.0"/>
<rect x="257.2" y="417.5" width="14.8" height="18.3" fill="#ffffff" stroke="#231815" stroke-width="1.4"/>
<rect x="283.2" y="395.2" width="14.8" height="40.6" fill="#a09fa4" stroke="#231815" stroke-width="1.4"/>
<circle cx="264.6" cy="364.7" r="1.5" fill="#ffffff" stroke="#231815" stroke-width="1.0"/>
<circle cx="264.6" cy="376" r="1.5" fill="#ffffff" stroke="#231815" stroke-width="1.0"/>
<circle cx="264.6" cy="394" r="1.5" fill="#ffffff" stroke="#231815" stroke-width="1.0"/>
<circle cx="264.6" cy="412.3" r="1.5" fill="#ffffff" stroke="#231815" stroke-width="1.0"/>
<circle cx="264.6" cy="414.3" r="1.5" fill="#ffffff" stroke="#231815" stroke-width="1.0"/>
<circle cx="264.6" cy="417.58" r="1.5" fill="#ffffff" stroke="#231815" stroke-width="1.0"/>
<circle cx="264.6" cy="420.87" r="1.5" fill="#ffffff" stroke="#231815" stroke-width="1.0"/>
<circle cx="264.6" cy="424.15" r="1.5" fill="#ffffff" stroke="#231815" stroke-width="1.0"/>
<circle cx="264.6" cy="427.43" r="1.5" fill="#ffffff" stroke="#231815" stroke-width="1.0"/>
<circle cx="264.6" cy="430.72" r="1.5" fill="#ffffff" stroke="#231815" stroke-width="1.0"/>
<circle cx="264.6" cy="434" r="1.5" fill="#ffffff" stroke="#231815" stroke-width="1.0"/>
<circle cx="290.6" cy="360.3" r="1.6" fill="#231815"/>
<circle cx="290.6" cy="362" r="1.6" fill="#231815"/>
<circle cx="290.6" cy="363.5" r="1.6" fill="#231815"/>
<circle cx="290.6" cy="367" r="1.6" fill="#231815"/>
<circle cx="290.6" cy="372" r="1.6" fill="#231815"/>
<circle cx="290.6" cy="379" r="1.6" fill="#231815"/>
<circle cx="290.6" cy="383.5" r="1.6" fill="#231815"/>
<circle cx="290.6" cy="389.8" r="1.6" fill="#231815"/>
<circle cx="290.6" cy="403.4" r="1.6" fill="#231815"/>
<circle cx="290.6" cy="409.6" r="1.6" fill="#231815"/>
<circle cx="290.6" cy="411.6" r="1.6" fill="#231815"/>
<circle cx="290.6" cy="413.6" r="1.6" fill="#231815"/>
<circle cx="290.6" cy="422" r="1.6" fill="#231815"/>
<circle cx="290.6" cy="424.5" r="1.6" fill="#231815"/>
<circle cx="290.6" cy="426.9" r="1.6" fill="#231815"/>
<circle cx="290.6" cy="433.6" r="1.6" fill="#231815"/>
<line x1="264.6" y1="412" x2="264.6" y2="422.6" stroke="#231815" stroke-width="1.0"/>
<line x1="260.7" y1="412" x2="268.5" y2="412" stroke="#231815" stroke-width="1.0"/>
<line x1="260.7" y1="422.6" x2="268.5" y2="422.6" stroke="#231815" stroke-width="1.0"/>
<line x1="290.6" y1="388.8" x2="290.6" y2="401" stroke="#231815" stroke-width="1.0"/>
<line x1="286.7" y1="388.8" x2="294.5" y2="388.8" stroke="#231815" stroke-width="1.0"/>
<line x1="286.7" y1="401" x2="294.5" y2="401" stroke="#231815" stroke-width="1.0"/>
<text x="266.8" y="444.2" font-size="8.0" font-weight="bold" text-anchor="end" fill="#231815" transform="rotate(-45 266.8 444.2)">Littermate</text>
<text x="295.8" y="444.2" font-size="8.0" font-weight="bold" text-anchor="end" fill="#231815" transform="rotate(-45 295.8 444.2)">SST;ErbB4 KO</text>
<path d="M264.6,359.6 L264.6,354.1 L290.6,354.1 L290.6,357.2" fill="none" stroke="#3d3736" stroke-width="0.95"/>
<polygon points="277.6,344.4 278.31,345.63 279.69,345.92 278.74,346.97 278.89,348.38 277.6,347.8 276.31,348.38 276.46,346.97 275.51,345.92 276.89,345.63" fill="#231815"/>
<line x1="343.9" y1="342.4" x2="343.9" y2="435.3" stroke="#231815" stroke-width="1.0"/>
<line x1="339.9" y1="434.8" x2="343.9" y2="434.8" stroke="#231815" stroke-width="1.0"/>
<text x="339.5" y="437.4" font-size="8.0" font-weight="bold" text-anchor="end" fill="#231815" textLength="10.34" lengthAdjust="spacingAndGlyphs">0.0</text>
<line x1="339.9" y1="404" x2="343.9" y2="404" stroke="#231815" stroke-width="1.0"/>
<text x="339.5" y="406.6" font-size="8.0" font-weight="bold" text-anchor="end" fill="#231815" textLength="10.34" lengthAdjust="spacingAndGlyphs">0.5</text>
<line x1="339.9" y1="373.2" x2="343.9" y2="373.2" stroke="#231815" stroke-width="1.0"/>
<text x="339.5" y="375.8" font-size="8.0" font-weight="bold" text-anchor="end" fill="#231815" textLength="10.34" lengthAdjust="spacingAndGlyphs">1.0</text>
<line x1="339.9" y1="342.4" x2="343.9" y2="342.4" stroke="#231815" stroke-width="1.0"/>
<text x="339.5" y="345" font-size="8.0" font-weight="bold" text-anchor="end" fill="#231815" textLength="10.34" lengthAdjust="spacingAndGlyphs">1.5</text>
<text x="324.2" y="391.5" font-size="8.0" font-weight="bold" text-anchor="middle" fill="#231815" transform="rotate(-90 324.2 391.5)">Generalization index</text>
<line x1="343.9" y1="434.8" x2="405.8" y2="434.8" stroke="#231815" stroke-width="1.0"/>
<line x1="361.5" y1="434.8" x2="361.5" y2="437.8" stroke="#231815" stroke-width="1.0"/>
<line x1="388" y1="434.8" x2="388" y2="437.8" stroke="#231815" stroke-width="1.0"/>
<rect x="354.1" y="420.3" width="14.8" height="14.5" fill="#ffffff" stroke="#231815" stroke-width="1.4"/>
<rect x="380.6" y="400.6" width="14.8" height="34.2" fill="#a09fa4" stroke="#231815" stroke-width="1.4"/>
<circle cx="361.5" cy="384.6" r="1.5" fill="#ffffff" stroke="#231815" stroke-width="1.0"/>
<circle cx="361.5" cy="387" r="1.5" fill="#ffffff" stroke="#231815" stroke-width="1.0"/>
<circle cx="361.5" cy="405" r="1.5" fill="#ffffff" stroke="#231815" stroke-width="1.0"/>
<circle cx="361.5" cy="412.3" r="1.5" fill="#ffffff" stroke="#231815" stroke-width="1.0"/>
<circle cx="361.5" cy="415.9" r="1.5" fill="#ffffff" stroke="#231815" stroke-width="1.0"/>
<circle cx="361.5" cy="421.4" r="1.5" fill="#ffffff" stroke="#231815" stroke-width="1.0"/>
<circle cx="361.5" cy="423.92" r="1.5" fill="#ffffff" stroke="#231815" stroke-width="1.0"/>
<circle cx="361.5" cy="426.44" r="1.5" fill="#ffffff" stroke="#231815" stroke-width="1.0"/>
<circle cx="361.5" cy="428.96" r="1.5" fill="#ffffff" stroke="#231815" stroke-width="1.0"/>
<circle cx="361.5" cy="431.48" r="1.5" fill="#ffffff" stroke="#231815" stroke-width="1.0"/>
<circle cx="361.5" cy="434" r="1.5" fill="#ffffff" stroke="#231815" stroke-width="1.0"/>
<circle cx="388" cy="369" r="1.6" fill="#231815"/>
<circle cx="388" cy="380" r="1.6" fill="#231815"/>
<circle cx="388" cy="382.3" r="1.6" fill="#231815"/>
<circle cx="388" cy="391.6" r="1.6" fill="#231815"/>
<circle cx="388" cy="398.7" r="1.6" fill="#231815"/>
<circle cx="388" cy="401.96" r="1.6" fill="#231815"/>
<circle cx="388" cy="405.22" r="1.6" fill="#231815"/>
<circle cx="388" cy="408.48" r="1.6" fill="#231815"/>
<circle cx="388" cy="411.74" r="1.6" fill="#231815"/>
<circle cx="388" cy="415" r="1.6" fill="#231815"/>
<circle cx="388" cy="425.3" r="1.6" fill="#231815"/>
<circle cx="388" cy="428.2" r="1.6" fill="#231815"/>
<circle cx="388" cy="431.1" r="1.6" fill="#231815"/>
<circle cx="388" cy="434" r="1.6" fill="#231815"/>
<line x1="361.5" y1="415.6" x2="361.5" y2="423.3" stroke="#231815" stroke-width="1.0"/>
<line x1="357.6" y1="415.6" x2="365.4" y2="415.6" stroke="#231815" stroke-width="1.0"/>
<line x1="357.6" y1="423.3" x2="365.4" y2="423.3" stroke="#231815" stroke-width="1.0"/>
<line x1="388" y1="395.6" x2="388" y2="404.2" stroke="#231815" stroke-width="1.0"/>
<line x1="384.1" y1="395.6" x2="391.9" y2="395.6" stroke="#231815" stroke-width="1.0"/>
<line x1="384.1" y1="404.2" x2="391.9" y2="404.2" stroke="#231815" stroke-width="1.0"/>
<text x="363.7" y="443.2" font-size="8.0" font-weight="bold" text-anchor="end" fill="#231815" transform="rotate(-45 363.7 443.2)">Littermate</text>
<text x="393.2" y="443.2" font-size="8.0" font-weight="bold" text-anchor="end" fill="#231815" transform="rotate(-45 393.2 443.2)">SST;ErbB4 KO</text>
<path d="M361.5,378.3 L361.5,361.4 L388,361.4 L388,365" fill="none" stroke="#3d3736" stroke-width="0.95"/>
<polygon points="372.75,353.8 373.46,355.03 374.84,355.32 373.89,356.37 374.04,357.78 372.75,357.2 371.46,357.78 371.61,356.37 370.66,355.32 372.04,355.03" fill="#231815"/>
<polygon points="376.75,353.8 377.46,355.03 378.84,355.32 377.89,356.37 378.04,357.78 376.75,357.2 375.46,357.78 375.61,356.37 374.66,355.32 376.04,355.03" fill="#231815"/>
<line x1="621.2" y1="340.6" x2="621.2" y2="434.9" stroke="#231815" stroke-width="1.0"/>
<line x1="617.2" y1="434.4" x2="621.2" y2="434.4" stroke="#231815" stroke-width="1.0"/>
<text x="616.8" y="437" font-size="8.0" font-weight="bold" text-anchor="end" fill="#231815" textLength="4.14" lengthAdjust="spacingAndGlyphs">0</text>
<line x1="617.2" y1="415.64" x2="621.2" y2="415.64" stroke="#231815" stroke-width="1.0"/>
<text x="616.8" y="418.24" font-size="8.0" font-weight="bold" text-anchor="end" fill="#231815" textLength="8.28" lengthAdjust="spacingAndGlyphs">20</text>
<line x1="617.2" y1="396.88" x2="621.2" y2="396.88" stroke="#231815" stroke-width="1.0"/>
<text x="616.8" y="399.48" font-size="8.0" font-weight="bold" text-anchor="end" fill="#231815" textLength="8.28" lengthAdjust="spacingAndGlyphs">40</text>
<line x1="617.2" y1="378.12" x2="621.2" y2="378.12" stroke="#231815" stroke-width="1.0"/>
<text x="616.8" y="380.72" font-size="8.0" font-weight="bold" text-anchor="end" fill="#231815" textLength="8.28" lengthAdjust="spacingAndGlyphs">60</text>
<line x1="617.2" y1="359.36" x2="621.2" y2="359.36" stroke="#231815" stroke-width="1.0"/>
<text x="616.8" y="361.96" font-size="8.0" font-weight="bold" text-anchor="end" fill="#231815" textLength="8.28" lengthAdjust="spacingAndGlyphs">80</text>
<line x1="617.2" y1="340.6" x2="621.2" y2="340.6" stroke="#231815" stroke-width="1.0"/>
<text x="616.8" y="343.2" font-size="8.0" font-weight="bold" text-anchor="end" fill="#231815" textLength="12.41" lengthAdjust="spacingAndGlyphs">100</text>
<text x="599.4" y="388" font-size="8.0" font-weight="bold" text-anchor="middle" fill="#231815" transform="rotate(-90 599.4 388)">Freezing (%)</text>
<line x1="621.2" y1="434.4" x2="686" y2="434.4" stroke="#231815" stroke-width="1.0"/>
<line x1="639" y1="434.4" x2="639" y2="437.4" stroke="#231815" stroke-width="1.0"/>
<line x1="665.8" y1="434.4" x2="665.8" y2="437.4" stroke="#231815" stroke-width="1.0"/>
<rect x="631.2" y="416.2" width="15.6" height="18.2" fill="#ffffff" stroke="#231815" stroke-width="1.4"/>
<rect x="658" y="403.5" width="15.6" height="30.9" fill="#a09fa4" stroke="#231815" stroke-width="1.4"/>
<circle cx="639" cy="396.1" r="1.5" fill="#ffffff" stroke="#231815" stroke-width="1.0"/>
<circle cx="639" cy="398.7" r="1.5" fill="#ffffff" stroke="#231815" stroke-width="1.0"/>
<circle cx="639" cy="401.6" r="1.5" fill="#ffffff" stroke="#231815" stroke-width="1.0"/>
<circle cx="639" cy="404.5" r="1.5" fill="#ffffff" stroke="#231815" stroke-width="1.0"/>
<circle cx="639" cy="407.3" r="1.5" fill="#ffffff" stroke="#231815" stroke-width="1.0"/>
<circle cx="639" cy="410.7" r="1.5" fill="#ffffff" stroke="#231815" stroke-width="1.0"/>
<circle cx="639" cy="413.5" r="1.5" fill="#ffffff" stroke="#231815" stroke-width="1.0"/>
<circle cx="639" cy="416.3" r="1.5" fill="#ffffff" stroke="#231815" stroke-width="1.0"/>
<circle cx="639" cy="419.3" r="1.5" fill="#ffffff" stroke="#231815" stroke-width="1.0"/>
<circle cx="639" cy="426.2" r="1.5" fill="#ffffff" stroke="#231815" stroke-width="1.0"/>
<circle cx="639" cy="428.8" r="1.5" fill="#ffffff" stroke="#231815" stroke-width="1.0"/>
<circle cx="639" cy="431.4" r="1.5" fill="#ffffff" stroke="#231815" stroke-width="1.0"/>
<circle cx="639" cy="434" r="1.5" fill="#ffffff" stroke="#231815" stroke-width="1.0"/>
<circle cx="665.8" cy="353.6" r="1.6" fill="#231815"/>
<circle cx="665.8" cy="373.7" r="1.6" fill="#231815"/>
<circle cx="665.8" cy="385.3" r="1.6" fill="#231815"/>
<circle cx="665.8" cy="394.9" r="1.6" fill="#231815"/>
<circle cx="665.8" cy="398" r="1.6" fill="#231815"/>
<circle cx="665.8" cy="401.3" r="1.6" fill="#231815"/>
<circle cx="665.8" cy="407.3" r="1.6" fill="#231815"/>
<circle cx="665.8" cy="412.5" r="1.6" fill="#231815"/>
<circle cx="665.8" cy="415.5" r="1.6" fill="#231815"/>
<circle cx="665.8" cy="418.5" r="1.6" fill="#231815"/>
<circle cx="665.8" cy="421.5" r="1.6" fill="#231815"/>
<circle cx="665.8" cy="424.5" r="1.6" fill="#231815"/>
<circle cx="665.8" cy="429.7" r="1.6" fill="#231815"/>
<line x1="639" y1="413.3" x2="639" y2="419" stroke="#231815" stroke-width="1.0"/>
<line x1="635.1" y1="413.3" x2="642.9" y2="413.3" stroke="#231815" stroke-width="1.0"/>
<line x1="635.1" y1="419" x2="642.9" y2="419" stroke="#231815" stroke-width="1.0"/>
<line x1="665.8" y1="398.7" x2="665.8" y2="407.3" stroke="#231815" stroke-width="1.0"/>
<line x1="661.9" y1="398.7" x2="669.7" y2="398.7" stroke="#231815" stroke-width="1.0"/>
<line x1="661.9" y1="407.3" x2="669.7" y2="407.3" stroke="#231815" stroke-width="1.0"/>
<text x="641.2" y="442.8" font-size="8.0" font-weight="bold" text-anchor="end" fill="#231815" transform="rotate(-45 641.2 442.8)">Littermate</text>
<text x="671" y="442.8" font-size="8.0" font-weight="bold" text-anchor="end" fill="#231815" transform="rotate(-45 671 442.8)">SST;ErbB4 KO</text>
<path d="M638.6,391 L638.6,347.4 L665.8,347.4 L665.8,350.5" fill="none" stroke="#3d3736" stroke-width="0.95"/>
<polygon points="652.2,340.4 652.91,341.63 654.29,341.92 653.34,342.97 653.49,344.38 652.2,343.8 650.91,344.38 651.06,342.97 650.11,341.92 651.49,341.63" fill="#231815"/>
<line x1="183.4" y1="502.3" x2="183.4" y2="594" stroke="#231815" stroke-width="1.0"/>
<line x1="179.4" y1="593.5" x2="183.4" y2="593.5" stroke="#231815" stroke-width="1.0"/>
<text x="179" y="596.1" font-size="8.0" font-weight="bold" text-anchor="end" fill="#231815" textLength="4.14" lengthAdjust="spacingAndGlyphs">0</text>
<line x1="179.4" y1="575.26" x2="183.4" y2="575.26" stroke="#231815" stroke-width="1.0"/>
<text x="179" y="577.86" font-size="8.0" font-weight="bold" text-anchor="end" fill="#231815" textLength="8.28" lengthAdjust="spacingAndGlyphs">20</text>
<line x1="179.4" y1="557.02" x2="183.4" y2="557.02" stroke="#231815" stroke-width="1.0"/>
<text x="179" y="559.62" font-size="8.0" font-weight="bold" text-anchor="end" fill="#231815" textLength="8.28" lengthAdjust="spacingAndGlyphs">40</text>
<line x1="179.4" y1="538.78" x2="183.4" y2="538.78" stroke="#231815" stroke-width="1.0"/>
<text x="179" y="541.38" font-size="8.0" font-weight="bold" text-anchor="end" fill="#231815" textLength="8.28" lengthAdjust="spacingAndGlyphs">60</text>
<line x1="179.4" y1="520.54" x2="183.4" y2="520.54" stroke="#231815" stroke-width="1.0"/>
<text x="179" y="523.14" font-size="8.0" font-weight="bold" text-anchor="end" fill="#231815" textLength="8.28" lengthAdjust="spacingAndGlyphs">80</text>
<line x1="179.4" y1="502.3" x2="183.4" y2="502.3" stroke="#231815" stroke-width="1.0"/>
<text x="179" y="504.9" font-size="8.0" font-weight="bold" text-anchor="end" fill="#231815" textLength="12.41" lengthAdjust="spacingAndGlyphs">100</text>
<text x="162.8" y="547.5" font-size="8.0" font-weight="bold" text-anchor="middle" fill="#231815" transform="rotate(-90 162.8 547.5)">Freezing (%)</text>
<line x1="183.4" y1="593.5" x2="244.5" y2="593.5" stroke="#231815" stroke-width="1.0"/>
<line x1="201.05" y1="593.5" x2="201.05" y2="596.5" stroke="#231815" stroke-width="1.0"/>
<line x1="227.05" y1="593.5" x2="227.05" y2="596.5" stroke="#231815" stroke-width="1.0"/>
<rect x="193.65" y="526.2" width="14.8" height="67.3" fill="#ffffff" stroke="#231815" stroke-width="1.4"/>
<rect x="219.65" y="528.7" width="14.8" height="64.8" fill="#a09fa4" stroke="#231815" stroke-width="1.4"/>
<circle cx="201.05" cy="512.3" r="1.5" fill="#ffffff" stroke="#231815" stroke-width="1.0"/>
<circle cx="201.05" cy="514.3" r="1.5" fill="#ffffff" stroke="#231815" stroke-width="1.0"/>
<circle cx="201.05" cy="516.4" r="1.5" fill="#ffffff" stroke="#231815" stroke-width="1.0"/>
<circle cx="201.05" cy="518.8" r="1.5" fill="#ffffff" stroke="#231815" stroke-width="1.0"/>
<circle cx="201.05" cy="522.1" r="1.5" fill="#ffffff" stroke="#231815" stroke-width="1.0"/>
<circle cx="201.05" cy="527.9" r="1.5" fill="#ffffff" stroke="#231815" stroke-width="1.0"/>
<circle cx="201.05" cy="530.4" r="1.5" fill="#ffffff" stroke="#231815" stroke-width="1.0"/>
<circle cx="201.05" cy="532.8" r="1.5" fill="#ffffff" stroke="#231815" stroke-width="1.0"/>
<circle cx="201.05" cy="535.3" r="1.5" fill="#ffffff" stroke="#231815" stroke-width="1.0"/>
<circle cx="201.05" cy="548.9" r="1.5" fill="#ffffff" stroke="#231815" stroke-width="1.0"/>
<circle cx="227.05" cy="513" r="1.6" fill="#231815"/>
<circle cx="227.05" cy="515" r="1.6" fill="#231815"/>
<circle cx="227.05" cy="517" r="1.6" fill="#231815"/>
<circle cx="227.05" cy="519.2" r="1.6" fill="#231815"/>
<circle cx="227.05" cy="521.3" r="1.6" fill="#231815"/>
<circle cx="227.05" cy="527" r="1.6" fill="#231815"/>
<circle cx="227.05" cy="530.3" r="1.6" fill="#231815"/>
<circle cx="227.05" cy="534.1" r="1.6" fill="#231815"/>
<circle cx="227.05" cy="539.4" r="1.6" fill="#231815"/>
<circle cx="227.05" cy="552.2" r="1.6" fill="#231815"/>
<line x1="201.05" y1="522.1" x2="201.05" y2="529.2" stroke="#231815" stroke-width="1.0"/>
<line x1="197.15" y1="522.1" x2="204.95" y2="522.1" stroke="#231815" stroke-width="1.0"/>
<line x1="197.15" y1="529.2" x2="204.95" y2="529.2" stroke="#231815" stroke-width="1.0"/>
<line x1="227.05" y1="524.6" x2="227.05" y2="531.5" stroke="#231815" stroke-width="1.0"/>
<line x1="223.15" y1="524.6" x2="230.95" y2="524.6" stroke="#231815" stroke-width="1.0"/>
<line x1="223.15" y1="531.5" x2="230.95" y2="531.5" stroke="#231815" stroke-width="1.0"/>
<text x="203.25" y="601.9" font-size="8.0" font-weight="bold" text-anchor="end" fill="#231815" transform="rotate(-45 203.25 601.9)">Littermate</text>
<text x="232.25" y="601.9" font-size="8.0" font-weight="bold" text-anchor="end" fill="#231815" transform="rotate(-45 232.25 601.9)">VIP;ErbB4 KO</text>
<line x1="246.9" y1="593.5" x2="308" y2="593.5" stroke="#231815" stroke-width="1.0"/>
<line x1="264.6" y1="593.5" x2="264.6" y2="596.5" stroke="#231815" stroke-width="1.0"/>
<line x1="290.6" y1="593.5" x2="290.6" y2="596.5" stroke="#231815" stroke-width="1.0"/>
<rect x="257.2" y="574.2" width="14.8" height="19.3" fill="#ffffff" stroke="#231815" stroke-width="1.4"/>
<rect x="283.2" y="561.1" width="14.8" height="32.4" fill="#a09fa4" stroke="#231815" stroke-width="1.4"/>
<circle cx="264.6" cy="516.9" r="1.5" fill="#ffffff" stroke="#231815" stroke-width="1.0"/>
<circle cx="264.6" cy="548.9" r="1.5" fill="#ffffff" stroke="#231815" stroke-width="1.0"/>
<circle cx="264.6" cy="555.5" r="1.5" fill="#ffffff" stroke="#231815" stroke-width="1.0"/>
<circle cx="264.6" cy="565.3" r="1.5" fill="#ffffff" stroke="#231815" stroke-width="1.0"/>
<circle cx="264.6" cy="575.5" r="1.5" fill="#ffffff" stroke="#231815" stroke-width="1.0"/>
<circle cx="264.6" cy="580" r="1.5" fill="#ffffff" stroke="#231815" stroke-width="1.0"/>
<circle cx="264.6" cy="584" r="1.5" fill="#ffffff" stroke="#231815" stroke-width="1.0"/>
<circle cx="264.6" cy="588" r="1.5" fill="#ffffff" stroke="#231815" stroke-width="1.0"/>
<circle cx="264.6" cy="592" r="1.5" fill="#ffffff" stroke="#231815" stroke-width="1.0"/>
<circle cx="264.6" cy="595" r="1.5" fill="#ffffff" stroke="#231815" stroke-width="1.0"/>
<circle cx="290.6" cy="520" r="1.6" fill="#231815"/>
<circle cx="290.6" cy="538.1" r="1.6" fill="#231815"/>
<circle cx="290.6" cy="544.3" r="1.6" fill="#231815"/>
<circle cx="290.6" cy="550" r="1.6" fill="#231815"/>
<circle cx="290.6" cy="551.7" r="1.6" fill="#231815"/>
<circle cx="290.6" cy="560.7" r="1.6" fill="#231815"/>
<circle cx="290.6" cy="565.3" r="1.6" fill="#231815"/>
<circle cx="290.6" cy="571.4" r="1.6" fill="#231815"/>
<circle cx="290.6" cy="587.9" r="1.6" fill="#231815"/>
<circle cx="290.6" cy="590.3" r="1.6" fill="#231815"/>
<circle cx="290.6" cy="592.8" r="1.6" fill="#231815"/>
<line x1="264.6" y1="566.5" x2="264.6" y2="580.5" stroke="#231815" stroke-width="1.0"/>
<line x1="260.7" y1="566.5" x2="268.5" y2="566.5" stroke="#231815" stroke-width="1.0"/>
<line x1="260.7" y1="580.5" x2="268.5" y2="580.5" stroke="#231815" stroke-width="1.0"/>
<line x1="290.6" y1="555.5" x2="290.6" y2="566" stroke="#231815" stroke-width="1.0"/>
<line x1="286.7" y1="555.5" x2="294.5" y2="555.5" stroke="#231815" stroke-width="1.0"/>
<line x1="286.7" y1="566" x2="294.5" y2="566" stroke="#231815" stroke-width="1.0"/>
<text x="266.8" y="601.9" font-size="8.0" font-weight="bold" text-anchor="end" fill="#231815" transform="rotate(-45 266.8 601.9)">Littermate</text>
<text x="295.8" y="601.9" font-size="8.0" font-weight="bold" text-anchor="end" fill="#231815" transform="rotate(-45 295.8 601.9)">VIP;ErbB4 KO</text>
<path d="M264.6,511.4 L264.6,506.5 L290.6,506.5 L290.6,514.4" fill="none" stroke="#3d3736" stroke-width="0.95"/>
<text x="277.6" y="502.2" font-size="8.6" text-anchor="middle" fill="#231815">ns</text>
<line x1="344.2" y1="500" x2="344.2" y2="593.2" stroke="#231815" stroke-width="1.0"/>
<line x1="340.2" y1="592.7" x2="344.2" y2="592.7" stroke="#231815" stroke-width="1.0"/>
<text x="339.8" y="595.3" font-size="8.0" font-weight="bold" text-anchor="end" fill="#231815" textLength="10.34" lengthAdjust="spacingAndGlyphs">0.0</text>
<line x1="340.2" y1="561.8" x2="344.2" y2="561.8" stroke="#231815" stroke-width="1.0"/>
<text x="339.8" y="564.4" font-size="8.0" font-weight="bold" text-anchor="end" fill="#231815" textLength="10.34" lengthAdjust="spacingAndGlyphs">0.5</text>
<line x1="340.2" y1="530.9" x2="344.2" y2="530.9" stroke="#231815" stroke-width="1.0"/>
<text x="339.8" y="533.5" font-size="8.0" font-weight="bold" text-anchor="end" fill="#231815" textLength="10.34" lengthAdjust="spacingAndGlyphs">1.0</text>
<line x1="340.2" y1="500" x2="344.2" y2="500" stroke="#231815" stroke-width="1.0"/>
<text x="339.8" y="502.6" font-size="8.0" font-weight="bold" text-anchor="end" fill="#231815" textLength="10.34" lengthAdjust="spacingAndGlyphs">1.5</text>
<text x="324.2" y="549" font-size="8.0" font-weight="bold" text-anchor="middle" fill="#231815" transform="rotate(-90 324.2 549)">Generalization index</text>
<line x1="344.2" y1="592.7" x2="406.4" y2="592.7" stroke="#231815" stroke-width="1.0"/>
<line x1="361.6" y1="592.7" x2="361.6" y2="595.7" stroke="#231815" stroke-width="1.0"/>
<line x1="388.1" y1="592.7" x2="388.1" y2="595.7" stroke="#231815" stroke-width="1.0"/>
<rect x="354.2" y="575.5" width="14.8" height="17.2" fill="#ffffff" stroke="#231815" stroke-width="1.4"/>
<rect x="380.7" y="560.4" width="14.8" height="32.3" fill="#a09fa4" stroke="#231815" stroke-width="1.4"/>
<circle cx="361.6" cy="534.1" r="1.5" fill="#ffffff" stroke="#231815" stroke-width="1.0"/>
<circle cx="361.6" cy="556.1" r="1.5" fill="#ffffff" stroke="#231815" stroke-width="1.0"/>
<circle cx="361.6" cy="561.6" r="1.5" fill="#ffffff" stroke="#231815" stroke-width="1.0"/>
<circle cx="361.6" cy="562.7" r="1.5" fill="#ffffff" stroke="#231815" stroke-width="1.0"/>
<circle cx="361.6" cy="575.2" r="1.5" fill="#ffffff" stroke="#231815" stroke-width="1.0"/>
<circle cx="361.6" cy="577.8" r="1.5" fill="#ffffff" stroke="#231815" stroke-width="1.0"/>
<circle cx="361.6" cy="580.5" r="1.5" fill="#ffffff" stroke="#231815" stroke-width="1.0"/>
<circle cx="361.6" cy="587" r="1.5" fill="#ffffff" stroke="#231815" stroke-width="1.0"/>
<circle cx="361.6" cy="590" r="1.5" fill="#ffffff" stroke="#231815" stroke-width="1.0"/>
<circle cx="361.6" cy="592.8" r="1.5" fill="#ffffff" stroke="#231815" stroke-width="1.0"/>
<circle cx="388.1" cy="509.5" r="1.6" fill="#231815"/>
<circle cx="388.1" cy="535.3" r="1.6" fill="#231815"/>
<circle cx="388.1" cy="545.9" r="1.6" fill="#231815"/>
<circle cx="388.1" cy="550.9" r="1.6" fill="#231815"/>
<circle cx="388.1" cy="553.6" r="1.6" fill="#231815"/>
<circle cx="388.1" cy="556.3" r="1.6" fill="#231815"/>
<circle cx="388.1" cy="559.1" r="1.6" fill="#231815"/>
<circle cx="388.1" cy="564" r="1.6" fill="#231815"/>
<circle cx="388.1" cy="565.7" r="1.6" fill="#231815"/>
<circle cx="388.1" cy="574.7" r="1.6" fill="#231815"/>
<circle cx="388.1" cy="587.9" r="1.6" fill="#231815"/>
<circle cx="388.1" cy="590.3" r="1.6" fill="#231815"/>
<line x1="361.6" y1="569.8" x2="361.6" y2="580.5" stroke="#231815" stroke-width="1.0"/>
<line x1="357.7" y1="569.8" x2="365.5" y2="569.8" stroke="#231815" stroke-width="1.0"/>
<line x1="357.7" y1="580.5" x2="365.5" y2="580.5" stroke="#231815" stroke-width="1.0"/>
<line x1="388.1" y1="553.8" x2="388.1" y2="566.5" stroke="#231815" stroke-width="1.0"/>
<line x1="384.2" y1="553.8" x2="392" y2="553.8" stroke="#231815" stroke-width="1.0"/>
<line x1="384.2" y1="566.5" x2="392" y2="566.5" stroke="#231815" stroke-width="1.0"/>
<text x="363.8" y="601.1" font-size="8.0" font-weight="bold" text-anchor="end" fill="#231815" transform="rotate(-45 363.8 601.1)">Littermate</text>
<text x="393.3" y="601.1" font-size="8.0" font-weight="bold" text-anchor="end" fill="#231815" transform="rotate(-45 393.3 601.1)">VIP;ErbB4 KO</text>
<path d="M361.6,527 L361.6,504 L388.1,504 L388.1,506.2" fill="none" stroke="#3d3736" stroke-width="0.95"/>
<text x="374.85" y="501.8" font-size="8.6" text-anchor="middle" fill="#231815">ns</text>
<line x1="621.2" y1="498.6" x2="621.2" y2="592.7" stroke="#231815" stroke-width="1.0"/>
<line x1="617.2" y1="592.2" x2="621.2" y2="592.2" stroke="#231815" stroke-width="1.0"/>
<text x="616.8" y="594.8" font-size="8.0" font-weight="bold" text-anchor="end" fill="#231815" textLength="4.14" lengthAdjust="spacingAndGlyphs">0</text>
<line x1="617.2" y1="573.48" x2="621.2" y2="573.48" stroke="#231815" stroke-width="1.0"/>
<text x="616.8" y="576.08" font-size="8.0" font-weight="bold" text-anchor="end" fill="#231815" textLength="8.28" lengthAdjust="spacingAndGlyphs">20</text>
<line x1="617.2" y1="554.76" x2="621.2" y2="554.76" stroke="#231815" stroke-width="1.0"/>
<text x="616.8" y="557.36" font-size="8.0" font-weight="bold" text-anchor="end" fill="#231815" textLength="8.28" lengthAdjust="spacingAndGlyphs">40</text>
<line x1="617.2" y1="536.04" x2="621.2" y2="536.04" stroke="#231815" stroke-width="1.0"/>
<text x="616.8" y="538.64" font-size="8.0" font-weight="bold" text-anchor="end" fill="#231815" textLength="8.28" lengthAdjust="spacingAndGlyphs">60</text>
<line x1="617.2" y1="517.32" x2="621.2" y2="517.32" stroke="#231815" stroke-width="1.0"/>
<text x="616.8" y="519.92" font-size="8.0" font-weight="bold" text-anchor="end" fill="#231815" textLength="8.28" lengthAdjust="spacingAndGlyphs">80</text>
<line x1="617.2" y1="498.6" x2="621.2" y2="498.6" stroke="#231815" stroke-width="1.0"/>
<text x="616.8" y="501.2" font-size="8.0" font-weight="bold" text-anchor="end" fill="#231815" textLength="12.41" lengthAdjust="spacingAndGlyphs">100</text>
<text x="599.4" y="545" font-size="8.0" font-weight="bold" text-anchor="middle" fill="#231815" transform="rotate(-90 599.4 545)">Freezing (%)</text>
<line x1="621.2" y1="592.2" x2="686" y2="592.2" stroke="#231815" stroke-width="1.0"/>
<line x1="639" y1="592.2" x2="639" y2="595.2" stroke="#231815" stroke-width="1.0"/>
<line x1="665.8" y1="592.2" x2="665.8" y2="595.2" stroke="#231815" stroke-width="1.0"/>
<rect x="631.2" y="558" width="15.6" height="34.2" fill="#ffffff" stroke="#231815" stroke-width="1.4"/>
<rect x="658" y="562.3" width="15.6" height="29.9" fill="#a09fa4" stroke="#231815" stroke-width="1.4"/>
<circle cx="639" cy="506.9" r="1.5" fill="#ffffff" stroke="#231815" stroke-width="1.0"/>
<circle cx="639" cy="523.9" r="1.5" fill="#ffffff" stroke="#231815" stroke-width="1.0"/>
<circle cx="639" cy="540.8" r="1.5" fill="#ffffff" stroke="#231815" stroke-width="1.0"/>
<circle cx="639" cy="542.5" r="1.5" fill="#ffffff" stroke="#231815" stroke-width="1.0"/>
<circle cx="639" cy="558.8" r="1.5" fill="#ffffff" stroke="#231815" stroke-width="1.0"/>
<circle cx="639" cy="560.5" r="1.5" fill="#ffffff" stroke="#231815" stroke-width="1.0"/>
<circle cx="639" cy="562.3" r="1.5" fill="#ffffff" stroke="#231815" stroke-width="1.0"/>
<circle cx="639" cy="569.5" r="1.5" fill="#ffffff" stroke="#231815" stroke-width="1.0"/>
<circle cx="639" cy="582.6" r="1.5" fill="#ffffff" stroke="#231815" stroke-width="1.0"/>
<circle cx="639" cy="587.2" r="1.5" fill="#ffffff" stroke="#231815" stroke-width="1.0"/>
<circle cx="639" cy="591.5" r="1.5" fill="#ffffff" stroke="#231815" stroke-width="1.0"/>
<circle cx="665.8" cy="519.6" r="1.6" fill="#231815"/>
<circle cx="665.8" cy="531" r="1.6" fill="#231815"/>
<circle cx="665.8" cy="545.4" r="1.6" fill="#231815"/>
<circle cx="665.8" cy="551.1" r="1.6" fill="#231815"/>
<circle cx="665.8" cy="558.8" r="1.6" fill="#231815"/>
<circle cx="665.8" cy="562.3" r="1.6" fill="#231815"/>
<circle cx="665.8" cy="565.7" r="1.6" fill="#231815"/>
<circle cx="665.8" cy="569.2" r="1.6" fill="#231815"/>
<circle cx="665.8" cy="579.2" r="1.6" fill="#231815"/>
<circle cx="665.8" cy="582.7" r="1.6" fill="#231815"/>
<circle cx="665.8" cy="586.2" r="1.6" fill="#231815"/>
<circle cx="665.8" cy="589.8" r="1.6" fill="#231815"/>
<line x1="639" y1="550.2" x2="639" y2="564.9" stroke="#231815" stroke-width="1.0"/>
<line x1="635.1" y1="550.2" x2="642.9" y2="550.2" stroke="#231815" stroke-width="1.0"/>
<line x1="635.1" y1="564.9" x2="642.9" y2="564.9" stroke="#231815" stroke-width="1.0"/>
<line x1="665.8" y1="556.3" x2="665.8" y2="567.1" stroke="#231815" stroke-width="1.0"/>
<line x1="661.9" y1="556.3" x2="669.7" y2="556.3" stroke="#231815" stroke-width="1.0"/>
<line x1="661.9" y1="567.1" x2="669.7" y2="567.1" stroke="#231815" stroke-width="1.0"/>
<text x="641.2" y="600.6" font-size="8.0" font-weight="bold" text-anchor="end" fill="#231815" transform="rotate(-45 641.2 600.6)">Littermate</text>
<text x="671" y="600.6" font-size="8.0" font-weight="bold" text-anchor="end" fill="#231815" transform="rotate(-45 671 600.6)">VIP;ErbB4 KO</text>
<path d="M638.6,502.9 L638.6,501.7 L665.8,501.7 L665.8,514.4" fill="none" stroke="#3d3736" stroke-width="0.95"/>
<text x="652.2" y="497.8" font-size="8.6" text-anchor="middle" fill="#231815">ns</text>
</svg>
</body></html>
